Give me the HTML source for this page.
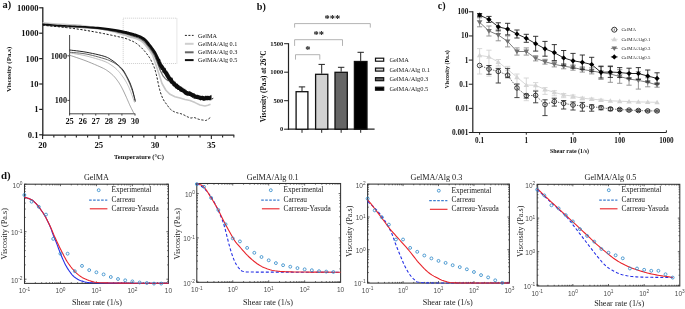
<!DOCTYPE html>
<html><head><meta charset="utf-8"><title>Rheology figure</title>
<style>
html,body{margin:0;padding:0;background:#fff;width:685px;height:309px;overflow:hidden}
svg{display:block;filter:blur(0.35px)}

</style></head>
<body>
<svg width="685" height="309" viewBox="0 0 685 309">
<rect x="0" y="0" width="685" height="309" fill="#fff"/>
<text x="2.5" y="7.9" font-family='"Liberation Serif", serif' font-size="10.4" font-weight="bold" fill="#111">a)</text>
<rect x="123.2" y="18.2" width="53.7" height="45.3" fill="none" stroke="#b8b8b8" stroke-width="0.7" stroke-dasharray="1 1"/>
<line x1="42.8" y1="7.3" x2="42.8" y2="135.8" stroke="#222" stroke-width="1.3"/>
<line x1="42.2" y1="135.2" x2="234.3" y2="135.2" stroke="#222" stroke-width="1.3"/>
<line x1="39.2" y1="7.8" x2="42.8" y2="7.8" stroke="#222" stroke-width="1.2"/>
<text x="38.5" y="10.7" font-family='"Liberation Serif", serif' font-size="8.6" font-weight="bold" text-anchor="end" fill="#111">10000</text>
<line x1="39.2" y1="33.2" x2="42.8" y2="33.2" stroke="#222" stroke-width="1.2"/>
<text x="38.5" y="36.1" font-family='"Liberation Serif", serif' font-size="8.6" font-weight="bold" text-anchor="end" fill="#111">1000</text>
<line x1="39.2" y1="58.6" x2="42.8" y2="58.6" stroke="#222" stroke-width="1.2"/>
<text x="38.5" y="61.5" font-family='"Liberation Serif", serif' font-size="8.6" font-weight="bold" text-anchor="end" fill="#111">100</text>
<line x1="39.2" y1="84" x2="42.8" y2="84" stroke="#222" stroke-width="1.2"/>
<text x="38.5" y="86.9" font-family='"Liberation Serif", serif' font-size="8.6" font-weight="bold" text-anchor="end" fill="#111">10</text>
<line x1="39.2" y1="109.4" x2="42.8" y2="109.4" stroke="#222" stroke-width="1.2"/>
<text x="38.5" y="112.3" font-family='"Liberation Serif", serif' font-size="8.6" font-weight="bold" text-anchor="end" fill="#111">1</text>
<line x1="39.2" y1="134.8" x2="42.8" y2="134.8" stroke="#222" stroke-width="1.2"/>
<text x="38.5" y="137.7" font-family='"Liberation Serif", serif' font-size="8.6" font-weight="bold" text-anchor="end" fill="#111">0.1</text>
<line x1="42.6" y1="135.2" x2="42.6" y2="138.9" stroke="#222" stroke-width="1.1"/>
<text x="42.6" y="147.8" font-family='"Liberation Serif", serif' font-size="8.7" font-weight="bold" text-anchor="middle" fill="#111">20</text>
<line x1="53.85" y1="135.2" x2="53.85" y2="137.5" stroke="#222" stroke-width="1.1"/>
<line x1="65.1" y1="135.2" x2="65.1" y2="137.5" stroke="#222" stroke-width="1.1"/>
<line x1="76.35" y1="135.2" x2="76.35" y2="137.5" stroke="#222" stroke-width="1.1"/>
<line x1="87.6" y1="135.2" x2="87.6" y2="137.5" stroke="#222" stroke-width="1.1"/>
<line x1="98.85" y1="135.2" x2="98.85" y2="138.9" stroke="#222" stroke-width="1.1"/>
<text x="98.85" y="147.8" font-family='"Liberation Serif", serif' font-size="8.7" font-weight="bold" text-anchor="middle" fill="#111">25</text>
<line x1="110.1" y1="135.2" x2="110.1" y2="137.5" stroke="#222" stroke-width="1.1"/>
<line x1="121.35" y1="135.2" x2="121.35" y2="137.5" stroke="#222" stroke-width="1.1"/>
<line x1="132.6" y1="135.2" x2="132.6" y2="137.5" stroke="#222" stroke-width="1.1"/>
<line x1="143.85" y1="135.2" x2="143.85" y2="137.5" stroke="#222" stroke-width="1.1"/>
<line x1="155.1" y1="135.2" x2="155.1" y2="138.9" stroke="#222" stroke-width="1.1"/>
<text x="155.1" y="147.8" font-family='"Liberation Serif", serif' font-size="8.7" font-weight="bold" text-anchor="middle" fill="#111">30</text>
<line x1="166.35" y1="135.2" x2="166.35" y2="137.5" stroke="#222" stroke-width="1.1"/>
<line x1="177.6" y1="135.2" x2="177.6" y2="137.5" stroke="#222" stroke-width="1.1"/>
<line x1="188.85" y1="135.2" x2="188.85" y2="137.5" stroke="#222" stroke-width="1.1"/>
<line x1="200.1" y1="135.2" x2="200.1" y2="137.5" stroke="#222" stroke-width="1.1"/>
<line x1="211.35" y1="135.2" x2="211.35" y2="138.9" stroke="#222" stroke-width="1.1"/>
<text x="211.35" y="147.8" font-family='"Liberation Serif", serif' font-size="8.7" font-weight="bold" text-anchor="middle" fill="#111">35</text>
<line x1="222.6" y1="135.2" x2="222.6" y2="137.5" stroke="#222" stroke-width="1.1"/>
<line x1="233.85" y1="135.2" x2="233.85" y2="137.5" stroke="#222" stroke-width="1.1"/>
<text x="139" y="158.6" font-family='"Liberation Serif", serif' font-size="6.6" font-weight="bold" text-anchor="middle" fill="#111">Temperature (°C)</text>
<text x="11.4" y="69.4" font-family='"Liberation Serif", serif' font-size="7" font-weight="bold" text-anchor="middle" fill="#111" transform="rotate(-90 11.4 69.4)">Viscosity (Pa.s)</text>
<polyline points="42.72,22.8 44.58,22.96 47.13,23.18 50.17,23.44 53.47,23.72 56.85,23.98 60.09,24.2 63.26,24.39 66.54,24.55 69.9,24.7 73.3,24.85 76.71,25.01 80.08,25.2 83.46,25.73 86.9,26.27 90.34,26.82 93.71,27.39 96.94,27.96 99.95,28.54 102.76,29.13 105.42,29.73 107.95,30.34 110.33,30.95 112.58,31.54 114.69,32.09 116.66,32.63 118.47,33.15 120.15,33.65 121.7,34.12 123.12,34.57 124.4,34.97 125.47,35.32 126.31,35.62 127.02,35.88 127.69,36.13 128.38,36.4 129.16,36.69 130.01,36.91 130.84,37.14 131.66,37.36 132.46,37.58 133.25,37.81 134.05,38.06 134.88,38.32 135.7,38.57 136.48,38.82 137.21,39.08 137.9,39.35 138.61,39.68 139.36,40.06 140.12,40.46 140.83,40.87 141.52,41.31 142.18,41.8 142.84,42.37 143.53,43.04 144.26,43.84 145.03,44.74 145.82,45.73 146.64,46.77 147.46,47.85 148.3,48.95 149.17,50.1 150.02,51.27 150.84,52.44 151.59,53.57 152.24,54.61 152.77,55.59 159,74 162,83.5 165.9,90.24 170,94.34 175,96.67 180,98.1 185,99.53 190,100.57 195,102.61 200,105.04 205,105.96 208,105.33 210.5,104.3" fill="none" stroke="#c8c8c8" stroke-width="1.6" stroke-linejoin="round"/>
<polyline points="42.52,25.1 44.39,25.25 46.94,25.47 49.97,25.73 53.29,26.01 56.68,26.27 59.94,26.5 63.14,26.68 66.43,26.84 69.8,26.99 73.2,27.14 76.59,27.31 79.95,27.5 83.33,27.71 86.79,27.94 90.25,28.17 93.63,28.43 96.87,28.7 99.91,28.99 102.73,29.39 105.41,29.8 107.96,30.24 110.37,30.68 112.65,31.11 114.79,31.52 116.78,31.92 118.64,32.31 120.35,32.69 121.93,33.06 123.37,33.41 124.68,33.73 125.78,34 126.66,34.24 127.41,34.46 128.1,34.67 128.8,34.89 129.59,35.12 130.42,35.36 131.25,35.6 132.07,35.84 132.88,36.09 133.69,36.34 134.5,36.61 135.33,36.89 136.15,37.16 136.94,37.44 137.71,37.73 138.46,38.05 139.22,38.42 140.01,38.82 140.79,39.24 141.56,39.68 142.31,40.16 143.05,40.71 143.79,41.33 144.54,42.06 145.32,42.91 146.11,43.85 146.92,44.86 147.74,45.92 148.57,46.99 149.42,48.11 150.29,49.27 151.16,50.46 152,51.65 152.77,52.81 153.45,53.91 154.02,54.95 154.51,55.98 154.97,57.03 155.42,58.09 155.88,59.18 156.37,60.26 160.3,70.46 163,75.9 165.5,78.87 168,80.67 170.7,81.08 175,85.76 180,90.24 185,92.83 190,94.89 195,96.61 200,97.08 205,98.81 211,98.51" fill="none" stroke="#707070" stroke-width="1.2" stroke-linejoin="round"/>
<polygon points="42.53,25 43.86,25.11 45.6,25.26 47.67,25.44 49.98,25.63 52.46,25.84 55,26.04 57.52,26.23 59.95,26.4 62.33,26.54 64.78,26.67 67.27,26.78 69.8,26.89 72.35,27.01 74.9,27.12 77.44,27.25 79.95,27.4 82.48,27.56 85.07,27.72 87.66,27.94 90.25,28.16 92.79,28.39 95.27,28.63 97.65,28.88 99.89,29.14 102.02,29.41 104.07,29.71 106.05,30.02 107.95,30.33 109.77,30.65 111.52,30.97 113.19,31.27 114.78,31.57 116.29,31.86 117.72,32.14 119.07,32.43 120.35,32.71 121.55,32.98 122.67,33.24 123.72,33.49 124.68,33.72 125.54,33.91 126.25,34.08 126.88,34.24 127.43,34.39 127.95,34.53 128.47,34.68 129.02,34.83 129.62,35 130.25,35.17 130.88,35.33 131.5,35.5 132.12,35.67 132.73,35.84 133.34,36.01 133.95,36.19 134.57,36.38 135.19,36.58 135.82,36.77 136.43,36.97 137.04,37.16 137.63,37.37 138.21,37.59 138.78,37.83 139.36,38.1 139.97,38.41 140.57,38.72 141.16,39.04 141.75,39.38 142.32,39.75 142.89,40.14 143.46,40.58 144.02,41.07 144.6,41.62 145.18,42.24 145.78,42.91 146.38,43.63 146.99,44.38 147.61,45.17 148.23,45.97 148.85,46.78 149.48,47.61 150.14,48.47 150.79,49.36 151.45,50.26 152.08,51.15 152.68,52.04 153.24,52.91 153.75,53.73 154.19,54.52 154.58,55.31 154.92,56.11 155.23,56.91 155.53,57.73 155.83,58.55 156.15,59.38 156.58,60.37 157.19,61.16 157.07,60.71 157.42,63.04 157.93,63.49 158.1,64.35 158.55,65.66 158.88,66.08 159.57,67.64 159.7,67.13 159.94,68.35 160.26,68.28 160.54,69.55 163.76,71.18 163.78,70.48 161.79,70.1 161.98,70.37 162.49,72.62 163.67,73.07 163.56,73.55 163.91,73.45 164.05,74.03 164.72,74.69 164.75,74.69 165.15,75.64 165.54,76.16 166.09,77.54 166.59,77.84 166.96,78.77 167.5,79.39 168.24,80.59 170.62,81.22 168.91,79.99 169.23,81.53 170.01,82.89 171.11,84.03 171.32,83.85 172.17,85.05 172.17,84.28 172.63,85.88 174.67,87.01 175.25,87.05 174.39,86.19 174.92,87.96 178.07,89.83 177.18,88.58 177.13,89.8 179.81,90.25 179.02,90.03 178.86,89.99 179.51,91.3 182.71,92.62 182.05,91.63 182.08,92.79 182.54,92.01 182.92,93.37 183.72,93.16 183.89,94.01 186.33,95.42 185.91,94.64 187.1,96.02 189.5,94.6 187.37,94.46 188.63,96.07 190.29,95.44 189.16,95.43 189.75,96.05 191.76,97.31 193.3,96.59 191.41,95.91 192.47,98.09 193.46,97.54 193.4,98.39 196.61,98.97 196.92,98.35 195.97,98.59 196.53,98.82 197.43,99.32 198.53,99.49 198.86,99.51 198.74,99.39 200.56,100.52 202.26,99.62 201.03,99.64 202.8,100.45 204.06,99.51 202.19,99.12 203.55,101 206.04,100.16 206.79,100.15 206.36,99.62 205.11,99.76 208.28,100.42 207.44,99.76 206.52,100.1 210.19,100.12 209.27,99.79 208.18,100.37 210.16,100.34 211.32,100.27 211.21,99.77 209.59,100 213.07,98.9 213.33,97.41 211.59,98.91 211.41,94.71 209.3,96.22 209.1,97.53 212.03,96.58 209.79,95.82 208.99,96.78 209.41,96.2 210.62,96.95 208.73,95.63 206.97,97.42 209.74,97.4 207.87,95.58 206.03,96.88 208.17,96.87 205.85,95.45 204.33,96.75 203.96,96.51 205.3,97.18 205.45,96.47 202.33,95.68 202.33,96.28 202.81,95.84 200.29,95.91 200.71,96.32 201.26,96.04 199.89,95.44 198.97,95.31 198.82,95.36 198.47,95.1 197.78,94.79 195.58,94.38 194.64,95.26 196.6,95.66 195.29,93.76 195.03,94.75 194.84,93.48 191.7,92.71 191.99,93.11 192.75,93.11 192.09,92.43 189.71,91.28 190.12,92.14 190.13,91.3 186.75,91.42 187.9,91.9 187.84,90.9 186.17,91.22 187.36,91.63 186.28,89.83 185.83,90.34 184.96,88.58 184.17,89.15 182.95,87.53 181.04,88.77 182.99,88.94 182.39,87.72 180.98,86.31 178.93,86.14 180.34,87.08 179.01,84.8 176.84,85.82 178.73,86.19 178.01,84.06 175.93,82.91 175.33,82.86 176.22,83.71 175.55,81.79 174.45,81.51 174.22,80.82 173.36,80.48 173.42,80.45 173.18,80.08 172.49,77.8 169.78,77.11 171.19,77.6 170.97,77.03 170.58,76.64 170.03,75.42 169.63,75.29 169.31,74.31 168.85,73.67 168.43,72.66 167.68,71.72 167.6,71.78 167,70.61 166.63,70.68 165.8,69.45 166.25,70.75 166.02,69.21 165.46,68.06 162.72,66.41 161.99,67.38 164.46,68.05 163.99,66.35 163.56,66.33 163.05,64.81 162.43,64.87 162.37,64.31 161.95,63.9 161.65,63.16 161.07,61.62 160.83,61.95 160.43,59.73 159.56,58.69 159.42,58.63 159.12,58.05 158.76,57.3 158.4,56.53 158.02,55.72 157.62,54.9 157.2,54.05 156.75,53.17 156.25,52.27 155.7,51.36 155.1,50.44 154.46,49.5 153.8,48.57 153.13,47.64 152.46,46.74 151.79,45.86 151.15,45.02 150.52,44.2 149.89,43.39 149.26,42.58 148.62,41.78 147.97,41.01 147.32,40.28 146.65,39.58 145.98,38.93 145.29,38.34 144.61,37.81 143.93,37.33 143.25,36.91 142.59,36.52 141.93,36.16 141.28,35.82 140.64,35.5 139.97,35.18 139.29,34.9 138.62,34.64 137.96,34.41 137.32,34.2 136.68,34 136.06,33.81 135.43,33.62 134.8,33.42 134.16,33.23 133.52,33.05 132.88,32.87 132.25,32.7 131.62,32.53 131,32.37 130.38,32.2 129.8,32.04 129.26,31.89 128.74,31.74 128.19,31.59 127.61,31.43 126.95,31.26 126.19,31.08 125.32,30.88 124.33,30.68 123.27,30.47 122.13,30.24 120.9,30.01 119.6,29.76 118.22,29.52 116.75,29.27 115.22,29.03 113.61,28.79 111.92,28.53 110.15,28.27 108.3,28.01 106.37,27.75 104.37,27.5 102.28,27.27 100.11,27.06 97.83,26.87 95.43,26.7 92.94,26.54 90.38,26.39 87.78,26.25 85.17,26.12 82.58,25.96 80.05,25.8 77.53,25.65 74.98,25.53 72.42,25.41 69.87,25.29 67.35,25.18 64.86,25.07 62.42,24.94 60.05,24.8 57.64,24.64 55.12,24.45 52.58,24.25 50.12,24.04 47.8,23.84 45.73,23.66 43.99,23.51 42.67,23.4" fill="#0d0d0d"/>
<polyline points="42.6,25.3 44.46,25.46 47.01,25.68 50.05,25.94 53.36,26.24 56.75,26.56 60,26.9 63.19,27.26 66.51,27.64 69.9,28.04 73.31,28.47 76.69,28.93 80,29.4 83.32,29.92 86.7,30.48 90.06,31.07 93.3,31.65 96.31,32.2 99,32.7 101.34,33.14 103.41,33.54 105.25,33.91 106.93,34.26 108.49,34.59 110,34.9 111.39,35.19 112.59,35.44 113.69,35.67 114.74,35.9 115.82,36.13 117,36.4 118.31,36.69 119.7,37 121.12,37.32 122.52,37.65 123.83,37.98 125,38.3 126.01,38.61 126.89,38.92 127.69,39.23 128.44,39.54 129.2,39.86 130,40.2 130.83,40.54 131.67,40.88 132.5,41.23 133.33,41.6 134.17,42.02 135,42.5 135.83,43.04 136.67,43.63 137.5,44.27 138.33,44.94 139.17,45.66 140,46.4 140.83,47.17 141.67,47.98 142.5,48.82 143.33,49.7 144.17,50.63 145,51.6 145.86,52.65 146.74,53.77 147.62,54.94 148.48,56.12 149.28,57.28 150,58.4 150.63,59.49 151.19,60.58 151.7,61.65 152.16,62.69 152.59,63.68 153,64.6 153.36,65.39 153.67,66.05 153.95,66.66 154.21,67.3 154.49,68.05 154.8,69 155.15,70.17 155.51,71.49 155.89,72.93 156.27,74.44 156.64,75.98 157,77.5 157.34,79.05 157.68,80.69 158.01,82.34 158.34,83.98 158.67,85.55 159,87 159.33,88.32 159.64,89.56 159.96,90.72 160.29,91.83 160.63,92.92 161,94 161.39,95.07 161.79,96.12 162.21,97.14 162.65,98.13 163.11,99.08 163.6,100 164.12,100.87 164.67,101.7 165.25,102.5 165.84,103.27 166.42,104.04 167,104.8 167.57,105.58 168.14,106.38 168.72,107.16 169.29,107.91 169.85,108.6 170.4,109.2 170.93,109.7 171.43,110.13 171.93,110.49 172.43,110.81 172.95,111.11 173.5,111.4 174.09,111.69 174.7,111.95 175.34,112.19 175.97,112.41 176.6,112.61 177.2,112.8 177.77,112.96 178.32,113.09 178.86,113.2 179.4,113.31 179.94,113.44 180.5,113.6 181.07,113.79 181.65,114.01 182.24,114.24 182.83,114.48 183.41,114.74 184,115 184.59,115.28 185.17,115.59 185.76,115.91 186.35,116.23 186.93,116.53 187.5,116.8 188.06,117.05 188.62,117.31 189.17,117.54 189.71,117.75 190.26,117.91 190.8,118 191.33,117.99 191.86,117.89 192.38,117.74 192.91,117.59 193.44,117.49 194,117.5 194.58,117.63 195.2,117.85 195.82,118.12 196.44,118.41 197.04,118.68 197.6,118.9 198.13,119.07 198.63,119.23 199.11,119.36 199.57,119.49 200.04,119.6 200.5,119.7 200.97,119.79 201.43,119.86 201.89,119.93 202.34,119.98 202.78,120.04 203.2,120.1 203.61,120.18 204,120.29 204.38,120.39 204.76,120.47 205.13,120.51 205.5,120.5 205.86,120.43 206.21,120.31 206.56,120.16 206.91,119.97 207.29,119.75 207.7,119.5 208.19,119.18 208.75,118.77 209.34,118.34 209.89,117.91 210.36,117.55 210.7,117.3" fill="none" stroke="#111" stroke-width="1" stroke-linejoin="round" stroke-dasharray="2.2 1.6"/>
<line x1="184.9" y1="35.4" x2="193.6" y2="35.4" stroke="#222" stroke-width="1" stroke-dasharray="2 1.5"/>
<text x="198.1" y="37.5" font-family='"Liberation Serif", serif' font-size="6.2" fill="#111">GelMA</text>
<line x1="184.9" y1="43.8" x2="193.6" y2="43.8" stroke="#cfcfcf" stroke-width="2"/>
<text x="198.1" y="45.9" font-family='"Liberation Serif", serif' font-size="6.2" fill="#111">GelMA/Alg 0.1</text>
<line x1="184.9" y1="52.3" x2="193.6" y2="52.3" stroke="#666" stroke-width="2"/>
<text x="198.1" y="54.4" font-family='"Liberation Serif", serif' font-size="6.2" fill="#111">GelMA/Alg 0.3</text>
<line x1="184.9" y1="60.1" x2="193.6" y2="60.1" stroke="#111" stroke-width="2"/>
<text x="198.1" y="62.2" font-family='"Liberation Serif", serif' font-size="6.2" fill="#111">GelMA/Alg 0.5</text>
<line x1="69.6" y1="35" x2="69.6" y2="114.2" stroke="#333" stroke-width="0.9"/>
<line x1="69.2" y1="113.8" x2="135.2" y2="113.8" stroke="#333" stroke-width="0.9"/>
<line x1="67.4" y1="55.8" x2="69.6" y2="55.8" stroke="#333" stroke-width="0.9"/>
<text x="67" y="58.65" font-family='"Liberation Serif", serif' font-size="8.2" font-weight="bold" text-anchor="end" fill="#111">1000</text>
<line x1="67.4" y1="100.4" x2="69.6" y2="100.4" stroke="#333" stroke-width="0.9"/>
<text x="67" y="103.25" font-family='"Liberation Serif", serif' font-size="8.2" font-weight="bold" text-anchor="end" fill="#111">100</text>
<line x1="69.6" y1="113.8" x2="69.6" y2="115.6" stroke="#333" stroke-width="0.9"/>
<text x="69.6" y="123.7" font-family='"Liberation Serif", serif' font-size="8.4" font-weight="bold" text-anchor="middle" fill="#111">25</text>
<line x1="82.68" y1="113.8" x2="82.68" y2="115.6" stroke="#333" stroke-width="0.9"/>
<text x="82.68" y="123.7" font-family='"Liberation Serif", serif' font-size="8.4" font-weight="bold" text-anchor="middle" fill="#111">26</text>
<line x1="95.76" y1="113.8" x2="95.76" y2="115.6" stroke="#333" stroke-width="0.9"/>
<text x="95.76" y="123.7" font-family='"Liberation Serif", serif' font-size="8.4" font-weight="bold" text-anchor="middle" fill="#111">27</text>
<line x1="108.84" y1="113.8" x2="108.84" y2="115.6" stroke="#333" stroke-width="0.9"/>
<text x="108.84" y="123.7" font-family='"Liberation Serif", serif' font-size="8.4" font-weight="bold" text-anchor="middle" fill="#111">28</text>
<line x1="121.92" y1="113.8" x2="121.92" y2="115.6" stroke="#333" stroke-width="0.9"/>
<text x="121.92" y="123.7" font-family='"Liberation Serif", serif' font-size="8.4" font-weight="bold" text-anchor="middle" fill="#111">29</text>
<line x1="135" y1="113.8" x2="135" y2="115.6" stroke="#333" stroke-width="0.9"/>
<text x="135" y="123.7" font-family='"Liberation Serif", serif' font-size="8.4" font-weight="bold" text-anchor="middle" fill="#111">30</text>
<polyline points="69.6,55.2 71.39,55.81 73.87,56.64 76.8,57.62 79.96,58.71 83.1,59.82 86,60.9 88.81,62.01 91.73,63.21 94.65,64.44 97.42,65.64 99.92,66.74 102,67.7 103.59,68.46 104.77,69.08 105.67,69.6 106.42,70.09 107.16,70.6 108,71.2 108.94,71.88 109.88,72.6 110.79,73.34 111.68,74.1 112.52,74.86 113.3,75.6 114.02,76.33 114.67,77.06 115.29,77.79 115.87,78.52 116.44,79.26 117,80 117.55,80.75 118.09,81.49 118.6,82.24 119.1,83 119.6,83.78 120.1,84.6 120.6,85.45 121.09,86.32 121.57,87.21 122.05,88.13 122.52,89.06 123,90 123.48,90.98 123.96,91.99 124.44,93.03 124.91,94.05 125.37,95.05 125.8,96 126.2,96.89 126.57,97.73 126.93,98.55 127.28,99.36 127.63,100.17 128,101 128.36,101.84 128.72,102.66 129.08,103.49 129.45,104.34 129.85,105.24 130.3,106.2 130.84,107.32 131.48,108.6 132.14,109.93 132.78,111.18 133.32,112.24 133.7,113" fill="none" stroke="#8a8a8a" stroke-width="0.8" stroke-linejoin="round"/>
<polyline points="69.6,52.9 71.37,53.2 73.79,53.59 76.67,54.07 79.81,54.62 82.98,55.23 86,55.9 89.02,56.66 92.25,57.53 95.53,58.46 98.68,59.41 101.56,60.34 104,61.2 105.94,61.98 107.49,62.71 108.76,63.42 109.87,64.13 110.91,64.85 112,65.6 113.1,66.37 114.12,67.14 115.07,67.92 115.99,68.73 116.89,69.58 117.8,70.5 118.72,71.49 119.62,72.55 120.51,73.65 121.38,74.77 122.21,75.9 123,77 123.75,78.08 124.46,79.17 125.14,80.25 125.79,81.33 126.41,82.42 127,83.5 127.56,84.57 128.07,85.61 128.56,86.66 129.04,87.72 129.51,88.83 130,90 130.52,91.29 131.06,92.69 131.59,94.12 132.11,95.54 132.59,96.85 133,98 133.35,99 133.67,99.93 133.94,100.75 134.17,101.46 134.35,102.05 134.5,102.5" fill="none" stroke="#b5b5b5" stroke-width="0.9" stroke-linejoin="round"/>
<polyline points="69.6,52.2 71.37,52.36 73.79,52.56 76.67,52.81 79.81,53.13 82.98,53.52 86,54 89.02,54.62 92.25,55.38 95.53,56.21 98.68,57.07 101.56,57.88 104,58.6 105.94,59.21 107.49,59.76 108.76,60.26 109.87,60.76 110.91,61.26 112,61.8 113.1,62.35 114.12,62.9 115.07,63.45 115.99,64.04 116.89,64.68 117.8,65.4 118.72,66.2 119.62,67.07 120.51,68 121.38,68.97 122.21,69.97 123,71 123.75,72.07 124.46,73.18 125.14,74.33 125.79,75.5 126.41,76.66 127,77.8 127.56,78.91 128.07,79.99 128.56,81.07 129.04,82.17 129.51,83.3 130,84.5 130.51,85.77 131.03,87.1 131.54,88.48 132.05,89.86 132.54,91.25 133,92.6 133.45,94.02 133.9,95.54 134.34,97.06 134.73,98.46 135.06,99.64 135.3,100.5" fill="none" stroke="#555" stroke-width="0.9" stroke-linejoin="round"/>
<polyline points="69.6,50 71.38,50.22 73.82,50.5 76.72,50.84 79.87,51.24 83.07,51.7 86.1,52.2 89.14,52.77 92.4,53.43 95.69,54.14 98.87,54.87 101.76,55.6 104.2,56.3 106.12,56.97 107.64,57.62 108.87,58.27 109.93,58.93 110.93,59.61 112,60.3 113.09,61.01 114.1,61.74 115.06,62.47 115.99,63.23 116.89,64 117.8,64.8 118.72,65.61 119.63,66.43 120.52,67.26 121.39,68.13 122.22,69.04 123,70 123.73,71.03 124.43,72.14 125.08,73.28 125.71,74.44 126.31,75.59 126.9,76.7 127.47,77.76 128.01,78.79 128.53,79.81 129.03,80.84 129.52,81.9 130,83 130.46,84.11 130.9,85.21 131.33,86.34 131.74,87.53 132.17,88.84 132.6,90.3 133.08,92.08 133.59,94.19 134.11,96.41 134.6,98.52 135.01,100.32 135.3,101.6" fill="none" stroke="#222" stroke-width="1" stroke-linejoin="round"/>
<text x="256.8" y="10.2" font-family='"Liberation Serif", serif' font-size="10.2" font-weight="bold" fill="#111">b)</text>
<line x1="288.5" y1="43.2" x2="288.5" y2="129.8" stroke="#222" stroke-width="1.2"/>
<line x1="287.9" y1="129.2" x2="374.6" y2="129.2" stroke="#222" stroke-width="1.2"/>
<line x1="284.1" y1="43.7" x2="288.5" y2="43.7" stroke="#222" stroke-width="1"/>
<text x="283.2" y="45.9" font-family='"Liberation Serif", serif' font-size="6.5" font-weight="bold" text-anchor="end" fill="#111">1500</text>
<line x1="284.1" y1="72.2" x2="288.5" y2="72.2" stroke="#222" stroke-width="1"/>
<text x="283.2" y="74.4" font-family='"Liberation Serif", serif' font-size="6.5" font-weight="bold" text-anchor="end" fill="#111">1000</text>
<line x1="284.1" y1="100.7" x2="288.5" y2="100.7" stroke="#222" stroke-width="1"/>
<text x="283.2" y="102.9" font-family='"Liberation Serif", serif' font-size="6.5" font-weight="bold" text-anchor="end" fill="#111">500</text>
<line x1="284.1" y1="129.2" x2="288.5" y2="129.2" stroke="#222" stroke-width="1"/>
<text x="283.2" y="131.4" font-family='"Liberation Serif", serif' font-size="6.5" font-weight="bold" text-anchor="end" fill="#111">0</text>
<text x="266.2" y="86.4" font-family='"Liberation Serif", serif' font-size="7.25" font-weight="bold" text-anchor="middle" fill="#111" transform="rotate(-90 266.2 86.4)">Viscosity (Pa.s) at 26°C</text>
<line x1="302" y1="91.1" x2="302" y2="86.9" stroke="#222" stroke-width="1"/>
<line x1="298.8" y1="86.9" x2="305.2" y2="86.9" stroke="#222" stroke-width="1"/>
<rect x="296.1" y="91.7" width="11.8" height="37.5" fill="#fff" stroke="#111" stroke-width="1.3"/>
<line x1="302" y1="129.2" x2="302" y2="132.8" stroke="#222" stroke-width="1"/>
<line x1="321.7" y1="73.7" x2="321.7" y2="64.4" stroke="#222" stroke-width="1"/>
<line x1="318.5" y1="64.4" x2="324.9" y2="64.4" stroke="#222" stroke-width="1"/>
<rect x="315.6" y="74.3" width="12.2" height="54.9" fill="#d2d2d2" stroke="#111" stroke-width="1.3"/>
<line x1="321.7" y1="129.2" x2="321.7" y2="132.8" stroke="#222" stroke-width="1"/>
<line x1="341.15" y1="71.7" x2="341.15" y2="67.3" stroke="#222" stroke-width="1"/>
<line x1="337.95" y1="67.3" x2="344.35" y2="67.3" stroke="#222" stroke-width="1"/>
<rect x="335" y="72.3" width="12.3" height="56.9" fill="#666" stroke="#111" stroke-width="1.3"/>
<line x1="341.15" y1="129.2" x2="341.15" y2="132.8" stroke="#222" stroke-width="1"/>
<line x1="360.7" y1="60.9" x2="360.7" y2="52.3" stroke="#222" stroke-width="1"/>
<line x1="357.5" y1="52.3" x2="363.9" y2="52.3" stroke="#222" stroke-width="1"/>
<rect x="354.4" y="61.5" width="12.6" height="67.7" fill="#000" stroke="#111" stroke-width="1.3"/>
<line x1="360.7" y1="129.2" x2="360.7" y2="132.8" stroke="#222" stroke-width="1"/>
<polyline points="294.6,27.6 294.6,23.6 370.3,23.6 370.3,27.6" fill="none" stroke="#a0a0a0" stroke-width="0.8" stroke-linejoin="miter"/>
<polyline points="294.6,45.9 294.6,39.7 342.5,39.7 342.5,45.9" fill="none" stroke="#a0a0a0" stroke-width="0.8" stroke-linejoin="miter"/>
<polyline points="295.5,59.6 295.5,54.7 319.8,54.7 319.8,59.6" fill="none" stroke="#a0a0a0" stroke-width="0.8" stroke-linejoin="miter"/>
<text x="332.4" y="22.2" font-family='"Liberation Serif", serif' font-size="10.5" font-weight="bold" text-anchor="middle" fill="#111">***</text>
<text x="318.8" y="38.3" font-family='"Liberation Serif", serif' font-size="10.5" font-weight="bold" text-anchor="middle" fill="#111">**</text>
<text x="307.8" y="52.5" font-family='"Liberation Serif", serif' font-size="10.5" font-weight="bold" text-anchor="middle" fill="#111">*</text>
<rect x="375.5" y="58.2" width="8.2" height="3" fill="#fff" stroke="#111" stroke-width="1.2"/>
<text x="389.4" y="61.9" font-family='"Liberation Serif", serif' font-size="6.4" fill="#1a1a1a">GelMA</text>
<rect x="375.5" y="68.1" width="8.2" height="3" fill="#d2d2d2" stroke="#111" stroke-width="1.2"/>
<text x="389.4" y="71.8" font-family='"Liberation Serif", serif' font-size="6.4" fill="#1a1a1a">GelMA/Alg 0.1</text>
<rect x="375.5" y="77.7" width="8.2" height="3" fill="#666" stroke="#111" stroke-width="1.2"/>
<text x="389.4" y="81.4" font-family='"Liberation Serif", serif' font-size="6.4" fill="#1a1a1a">GelMA/Alg0.3</text>
<rect x="375.5" y="87.2" width="8.2" height="3" fill="#000" stroke="#111" stroke-width="1.2"/>
<text x="389.4" y="90.9" font-family='"Liberation Serif", serif' font-size="6.4" fill="#1a1a1a">GelMA/Alg0.5</text>
<text x="437.8" y="9.3" font-family='"Liberation Serif", serif' font-size="10.2" font-weight="bold" fill="#111">c)</text>
<line x1="472.8" y1="11.3" x2="472.8" y2="133.1" stroke="#222" stroke-width="1.2"/>
<line x1="472.2" y1="132.5" x2="666.3" y2="132.5" stroke="#222" stroke-width="1.2"/>
<line x1="468.8" y1="11.8" x2="472.8" y2="11.8" stroke="#222" stroke-width="1"/>
<text x="468.4" y="14.3" font-family='"Liberation Serif", serif' font-size="7.3" font-weight="bold" text-anchor="end" fill="#111">100</text>
<line x1="468.8" y1="35.94" x2="472.8" y2="35.94" stroke="#222" stroke-width="1"/>
<text x="468.4" y="38.44" font-family='"Liberation Serif", serif' font-size="7.3" font-weight="bold" text-anchor="end" fill="#111">10</text>
<line x1="468.8" y1="60.08" x2="472.8" y2="60.08" stroke="#222" stroke-width="1"/>
<text x="468.4" y="62.58" font-family='"Liberation Serif", serif' font-size="7.3" font-weight="bold" text-anchor="end" fill="#111">1</text>
<line x1="468.8" y1="84.22" x2="472.8" y2="84.22" stroke="#222" stroke-width="1"/>
<text x="468.4" y="86.72" font-family='"Liberation Serif", serif' font-size="7.3" font-weight="bold" text-anchor="end" fill="#111">0.1</text>
<line x1="468.8" y1="108.36" x2="472.8" y2="108.36" stroke="#222" stroke-width="1"/>
<text x="468.4" y="110.86" font-family='"Liberation Serif", serif' font-size="7.3" font-weight="bold" text-anchor="end" fill="#111">0.01</text>
<line x1="468.8" y1="132.5" x2="472.8" y2="132.5" stroke="#222" stroke-width="1"/>
<text x="468.4" y="135" font-family='"Liberation Serif", serif' font-size="7.3" font-weight="bold" text-anchor="end" fill="#111">0.001</text>
<line x1="479.6" y1="132.5" x2="479.6" y2="134.7" stroke="#222" stroke-width="1"/>
<text x="479.6" y="143.2" font-family='"Liberation Serif", serif' font-size="7.2" font-weight="bold" text-anchor="middle" fill="#111">0.1</text>
<line x1="526.3" y1="132.5" x2="526.3" y2="134.7" stroke="#222" stroke-width="1"/>
<text x="526.3" y="143.2" font-family='"Liberation Serif", serif' font-size="7.2" font-weight="bold" text-anchor="middle" fill="#111">1</text>
<line x1="573" y1="132.5" x2="573" y2="134.7" stroke="#222" stroke-width="1"/>
<text x="573" y="143.2" font-family='"Liberation Serif", serif' font-size="7.2" font-weight="bold" text-anchor="middle" fill="#111">10</text>
<line x1="619.7" y1="132.5" x2="619.7" y2="134.7" stroke="#222" stroke-width="1"/>
<text x="619.7" y="143.2" font-family='"Liberation Serif", serif' font-size="7.2" font-weight="bold" text-anchor="middle" fill="#111">100</text>
<line x1="666.4" y1="130.3" x2="666.4" y2="132.5" stroke="#222" stroke-width="1"/>
<text x="666.4" y="143.2" font-family='"Liberation Serif", serif' font-size="7.2" font-weight="bold" text-anchor="middle" fill="#111">1000</text>
<text x="569.5" y="153.3" font-family='"Liberation Serif", serif' font-size="6" font-weight="bold" text-anchor="middle" fill="#111">Shear rate (1/s)</text>
<text x="449.2" y="69.4" font-family='"Liberation Serif", serif' font-size="5.95" font-weight="bold" text-anchor="middle" fill="#111" transform="rotate(-90 449.2 69.4)">Viscosity (Pa.s)</text>
<polyline points="479.6,55.4 488.94,56.8 498.28,62 507.62,69.4 516.96,77.2 526.3,85 535.64,85.3 544.98,89.5 554.32,92.3 563.66,94.9 573,96.2 582.34,98.2 591.68,99.1 601.02,100 610.36,100.8 619.7,101.2 629.04,101.6 638.38,101.9 647.72,102.1 657.06,102.3" fill="none" stroke="#d4d4d4" stroke-width="0.9" stroke-linejoin="round"/>
<line x1="479.6" y1="48.6" x2="479.6" y2="74" stroke="#d4d4d4" stroke-width="0.9"/>
<line x1="477" y1="48.6" x2="482.2" y2="48.6" stroke="#d4d4d4" stroke-width="0.9"/>
<line x1="477" y1="74" x2="482.2" y2="74" stroke="#d4d4d4" stroke-width="0.9"/>
<line x1="488.94" y1="50.2" x2="488.94" y2="76.2" stroke="#d4d4d4" stroke-width="0.9"/>
<line x1="486.34" y1="50.2" x2="491.54" y2="50.2" stroke="#d4d4d4" stroke-width="0.9"/>
<line x1="486.34" y1="76.2" x2="491.54" y2="76.2" stroke="#d4d4d4" stroke-width="0.9"/>
<line x1="498.28" y1="59.5" x2="498.28" y2="66" stroke="#d4d4d4" stroke-width="0.9"/>
<line x1="495.68" y1="59.5" x2="500.88" y2="59.5" stroke="#d4d4d4" stroke-width="0.9"/>
<line x1="495.68" y1="66" x2="500.88" y2="66" stroke="#d4d4d4" stroke-width="0.9"/>
<line x1="507.62" y1="66.4" x2="507.62" y2="74.4" stroke="#d4d4d4" stroke-width="0.9"/>
<line x1="505.02" y1="66.4" x2="510.22" y2="66.4" stroke="#d4d4d4" stroke-width="0.9"/>
<line x1="505.02" y1="74.4" x2="510.22" y2="74.4" stroke="#d4d4d4" stroke-width="0.9"/>
<line x1="516.96" y1="74" x2="516.96" y2="84.2" stroke="#d4d4d4" stroke-width="0.9"/>
<line x1="514.36" y1="74" x2="519.56" y2="74" stroke="#d4d4d4" stroke-width="0.9"/>
<line x1="514.36" y1="84.2" x2="519.56" y2="84.2" stroke="#d4d4d4" stroke-width="0.9"/>
<line x1="526.3" y1="78" x2="526.3" y2="100.7" stroke="#d4d4d4" stroke-width="0.9"/>
<line x1="523.7" y1="78" x2="528.9" y2="78" stroke="#d4d4d4" stroke-width="0.9"/>
<line x1="523.7" y1="100.7" x2="528.9" y2="100.7" stroke="#d4d4d4" stroke-width="0.9"/>
<line x1="535.64" y1="82.6" x2="535.64" y2="90.3" stroke="#d4d4d4" stroke-width="0.9"/>
<line x1="533.04" y1="82.6" x2="538.24" y2="82.6" stroke="#d4d4d4" stroke-width="0.9"/>
<line x1="533.04" y1="90.3" x2="538.24" y2="90.3" stroke="#d4d4d4" stroke-width="0.9"/>
<line x1="544.98" y1="87.6" x2="544.98" y2="94.4" stroke="#d4d4d4" stroke-width="0.9"/>
<line x1="542.38" y1="87.6" x2="547.58" y2="87.6" stroke="#d4d4d4" stroke-width="0.9"/>
<line x1="542.38" y1="94.4" x2="547.58" y2="94.4" stroke="#d4d4d4" stroke-width="0.9"/>
<line x1="554.32" y1="90.7" x2="554.32" y2="95.8" stroke="#d4d4d4" stroke-width="0.9"/>
<line x1="551.72" y1="90.7" x2="556.92" y2="90.7" stroke="#d4d4d4" stroke-width="0.9"/>
<line x1="551.72" y1="95.8" x2="556.92" y2="95.8" stroke="#d4d4d4" stroke-width="0.9"/>
<line x1="563.66" y1="93.5" x2="563.66" y2="97.7" stroke="#d4d4d4" stroke-width="0.9"/>
<line x1="561.06" y1="93.5" x2="566.26" y2="93.5" stroke="#d4d4d4" stroke-width="0.9"/>
<line x1="561.06" y1="97.7" x2="566.26" y2="97.7" stroke="#d4d4d4" stroke-width="0.9"/>
<line x1="573" y1="95" x2="573" y2="98.2" stroke="#d4d4d4" stroke-width="0.9"/>
<line x1="570.4" y1="95" x2="575.6" y2="95" stroke="#d4d4d4" stroke-width="0.9"/>
<line x1="570.4" y1="98.2" x2="575.6" y2="98.2" stroke="#d4d4d4" stroke-width="0.9"/>
<line x1="582.34" y1="97.2" x2="582.34" y2="99.7" stroke="#d4d4d4" stroke-width="0.9"/>
<line x1="579.74" y1="97.2" x2="584.94" y2="97.2" stroke="#d4d4d4" stroke-width="0.9"/>
<line x1="579.74" y1="99.7" x2="584.94" y2="99.7" stroke="#d4d4d4" stroke-width="0.9"/>
<line x1="591.68" y1="98.1" x2="591.68" y2="100.3" stroke="#d4d4d4" stroke-width="0.9"/>
<line x1="589.08" y1="98.1" x2="594.28" y2="98.1" stroke="#d4d4d4" stroke-width="0.9"/>
<line x1="589.08" y1="100.3" x2="594.28" y2="100.3" stroke="#d4d4d4" stroke-width="0.9"/>
<line x1="601.02" y1="99.2" x2="601.02" y2="101" stroke="#d4d4d4" stroke-width="0.9"/>
<line x1="598.42" y1="99.2" x2="603.62" y2="99.2" stroke="#d4d4d4" stroke-width="0.9"/>
<line x1="598.42" y1="101" x2="603.62" y2="101" stroke="#d4d4d4" stroke-width="0.9"/>
<polygon points="479.6,52.8 476.87,57.35 482.33,57.35" fill="#d4d4d4"/>
<polygon points="488.94,54.2 486.21,58.75 491.67,58.75" fill="#d4d4d4"/>
<polygon points="498.28,59.4 495.55,63.95 501.01,63.95" fill="#d4d4d4"/>
<polygon points="507.62,66.8 504.89,71.35 510.35,71.35" fill="#d4d4d4"/>
<polygon points="516.96,74.6 514.23,79.15 519.69,79.15" fill="#d4d4d4"/>
<polygon points="526.3,82.4 523.57,86.95 529.03,86.95" fill="#d4d4d4"/>
<polygon points="535.64,82.7 532.91,87.25 538.37,87.25" fill="#d4d4d4"/>
<polygon points="544.98,86.9 542.25,91.45 547.71,91.45" fill="#d4d4d4"/>
<polygon points="554.32,89.7 551.59,94.25 557.05,94.25" fill="#d4d4d4"/>
<polygon points="563.66,92.3 560.93,96.85 566.39,96.85" fill="#d4d4d4"/>
<polygon points="573,93.6 570.27,98.15 575.73,98.15" fill="#d4d4d4"/>
<polygon points="582.34,95.6 579.61,100.15 585.07,100.15" fill="#d4d4d4"/>
<polygon points="591.68,96.5 588.95,101.05 594.41,101.05" fill="#d4d4d4"/>
<polygon points="601.02,97.4 598.29,101.95 603.75,101.95" fill="#d4d4d4"/>
<polygon points="610.36,98.2 607.63,102.75 613.09,102.75" fill="#d4d4d4"/>
<polygon points="619.7,98.6 616.97,103.15 622.43,103.15" fill="#d4d4d4"/>
<polygon points="629.04,99 626.31,103.55 631.77,103.55" fill="#d4d4d4"/>
<polygon points="638.38,99.3 635.65,103.85 641.11,103.85" fill="#d4d4d4"/>
<polygon points="647.72,99.5 644.99,104.05 650.45,104.05" fill="#d4d4d4"/>
<polygon points="657.06,99.7 654.33,104.25 659.79,104.25" fill="#d4d4d4"/>
<polyline points="479.6,65.5 488.94,69 498.28,71.4 507.62,75.2 516.96,87.9 526.3,95.6 535.64,95.4 544.98,104.5 554.32,101.5 563.66,103.4 573,105 582.34,105.9 591.68,106.9 601.02,107.6 610.36,108.9 619.7,109.5 629.04,110.1 638.38,110.5 647.72,110.9 657.06,110.9" fill="none" stroke="#333" stroke-width="0.8" stroke-linejoin="round" stroke-dasharray="1.2 1.2"/>
<line x1="488.94" y1="65.5" x2="488.94" y2="74.3" stroke="#333" stroke-width="0.9"/>
<line x1="486.34" y1="65.5" x2="491.54" y2="65.5" stroke="#333" stroke-width="0.9"/>
<line x1="486.34" y1="74.3" x2="491.54" y2="74.3" stroke="#333" stroke-width="0.9"/>
<line x1="498.28" y1="68.4" x2="498.28" y2="83" stroke="#333" stroke-width="0.9"/>
<line x1="495.68" y1="68.4" x2="500.88" y2="68.4" stroke="#333" stroke-width="0.9"/>
<line x1="495.68" y1="83" x2="500.88" y2="83" stroke="#333" stroke-width="0.9"/>
<line x1="507.62" y1="68.4" x2="507.62" y2="77.7" stroke="#333" stroke-width="0.9"/>
<line x1="505.02" y1="68.4" x2="510.22" y2="68.4" stroke="#333" stroke-width="0.9"/>
<line x1="505.02" y1="77.7" x2="510.22" y2="77.7" stroke="#333" stroke-width="0.9"/>
<line x1="516.96" y1="84" x2="516.96" y2="97.6" stroke="#333" stroke-width="0.9"/>
<line x1="514.36" y1="84" x2="519.56" y2="84" stroke="#333" stroke-width="0.9"/>
<line x1="514.36" y1="97.6" x2="519.56" y2="97.6" stroke="#333" stroke-width="0.9"/>
<line x1="526.3" y1="94.1" x2="526.3" y2="98.1" stroke="#333" stroke-width="0.9"/>
<line x1="523.7" y1="94.1" x2="528.9" y2="94.1" stroke="#333" stroke-width="0.9"/>
<line x1="523.7" y1="98.1" x2="528.9" y2="98.1" stroke="#333" stroke-width="0.9"/>
<line x1="535.64" y1="91.1" x2="535.64" y2="102.8" stroke="#333" stroke-width="0.9"/>
<line x1="533.04" y1="91.1" x2="538.24" y2="91.1" stroke="#333" stroke-width="0.9"/>
<line x1="533.04" y1="102.8" x2="538.24" y2="102.8" stroke="#333" stroke-width="0.9"/>
<line x1="544.98" y1="99.8" x2="544.98" y2="115.6" stroke="#333" stroke-width="0.9"/>
<line x1="542.38" y1="99.8" x2="547.58" y2="99.8" stroke="#333" stroke-width="0.9"/>
<line x1="542.38" y1="115.6" x2="547.58" y2="115.6" stroke="#333" stroke-width="0.9"/>
<line x1="554.32" y1="98.2" x2="554.32" y2="106.1" stroke="#333" stroke-width="0.9"/>
<line x1="551.72" y1="98.2" x2="556.92" y2="98.2" stroke="#333" stroke-width="0.9"/>
<line x1="551.72" y1="106.1" x2="556.92" y2="106.1" stroke="#333" stroke-width="0.9"/>
<line x1="563.66" y1="100.5" x2="563.66" y2="109" stroke="#333" stroke-width="0.9"/>
<line x1="561.06" y1="100.5" x2="566.26" y2="100.5" stroke="#333" stroke-width="0.9"/>
<line x1="561.06" y1="109" x2="566.26" y2="109" stroke="#333" stroke-width="0.9"/>
<line x1="573" y1="101.9" x2="573" y2="110" stroke="#333" stroke-width="0.9"/>
<line x1="570.4" y1="101.9" x2="575.6" y2="101.9" stroke="#333" stroke-width="0.9"/>
<line x1="570.4" y1="110" x2="575.6" y2="110" stroke="#333" stroke-width="0.9"/>
<line x1="582.34" y1="102.4" x2="582.34" y2="111.2" stroke="#333" stroke-width="0.9"/>
<line x1="579.74" y1="102.4" x2="584.94" y2="102.4" stroke="#333" stroke-width="0.9"/>
<line x1="579.74" y1="111.2" x2="584.94" y2="111.2" stroke="#333" stroke-width="0.9"/>
<line x1="591.68" y1="104.8" x2="591.68" y2="111.2" stroke="#333" stroke-width="0.9"/>
<line x1="589.08" y1="104.8" x2="594.28" y2="104.8" stroke="#333" stroke-width="0.9"/>
<line x1="589.08" y1="111.2" x2="594.28" y2="111.2" stroke="#333" stroke-width="0.9"/>
<line x1="601.02" y1="106.1" x2="601.02" y2="109.8" stroke="#333" stroke-width="0.9"/>
<line x1="598.42" y1="106.1" x2="603.62" y2="106.1" stroke="#333" stroke-width="0.9"/>
<line x1="598.42" y1="109.8" x2="603.62" y2="109.8" stroke="#333" stroke-width="0.9"/>
<line x1="610.36" y1="107.6" x2="610.36" y2="110.7" stroke="#333" stroke-width="0.9"/>
<line x1="607.76" y1="107.6" x2="612.96" y2="107.6" stroke="#333" stroke-width="0.9"/>
<line x1="607.76" y1="110.7" x2="612.96" y2="110.7" stroke="#333" stroke-width="0.9"/>
<line x1="619.7" y1="108.5" x2="619.7" y2="110.7" stroke="#333" stroke-width="0.9"/>
<line x1="617.1" y1="108.5" x2="622.3" y2="108.5" stroke="#333" stroke-width="0.9"/>
<line x1="617.1" y1="110.7" x2="622.3" y2="110.7" stroke="#333" stroke-width="0.9"/>
<line x1="629.04" y1="109.3" x2="629.04" y2="111.1" stroke="#333" stroke-width="0.9"/>
<line x1="626.44" y1="109.3" x2="631.64" y2="109.3" stroke="#333" stroke-width="0.9"/>
<line x1="626.44" y1="111.1" x2="631.64" y2="111.1" stroke="#333" stroke-width="0.9"/>
<line x1="638.38" y1="109.7" x2="638.38" y2="111.5" stroke="#333" stroke-width="0.9"/>
<line x1="635.78" y1="109.7" x2="640.98" y2="109.7" stroke="#333" stroke-width="0.9"/>
<line x1="635.78" y1="111.5" x2="640.98" y2="111.5" stroke="#333" stroke-width="0.9"/>
<line x1="647.72" y1="110.1" x2="647.72" y2="111.9" stroke="#333" stroke-width="0.9"/>
<line x1="645.12" y1="110.1" x2="650.32" y2="110.1" stroke="#333" stroke-width="0.9"/>
<line x1="645.12" y1="111.9" x2="650.32" y2="111.9" stroke="#333" stroke-width="0.9"/>
<line x1="657.06" y1="110.1" x2="657.06" y2="111.9" stroke="#333" stroke-width="0.9"/>
<line x1="654.46" y1="110.1" x2="659.66" y2="110.1" stroke="#333" stroke-width="0.9"/>
<line x1="654.46" y1="111.9" x2="659.66" y2="111.9" stroke="#333" stroke-width="0.9"/>
<circle cx="479.6" cy="65.5" r="2.3" fill="none" stroke="#222" stroke-width="0.85"/>
<circle cx="488.94" cy="69" r="2.3" fill="none" stroke="#222" stroke-width="0.85"/>
<circle cx="498.28" cy="71.4" r="2.3" fill="none" stroke="#222" stroke-width="0.85"/>
<circle cx="507.62" cy="75.2" r="2.3" fill="none" stroke="#222" stroke-width="0.85"/>
<circle cx="516.96" cy="87.9" r="2.3" fill="none" stroke="#222" stroke-width="0.85"/>
<circle cx="526.3" cy="95.6" r="2.3" fill="none" stroke="#222" stroke-width="0.85"/>
<circle cx="535.64" cy="95.4" r="2.3" fill="none" stroke="#222" stroke-width="0.85"/>
<circle cx="544.98" cy="104.5" r="2.3" fill="none" stroke="#222" stroke-width="0.85"/>
<circle cx="554.32" cy="101.5" r="2.3" fill="none" stroke="#222" stroke-width="0.85"/>
<circle cx="563.66" cy="103.4" r="2.3" fill="none" stroke="#222" stroke-width="0.85"/>
<circle cx="573" cy="105" r="2.3" fill="none" stroke="#222" stroke-width="0.85"/>
<circle cx="582.34" cy="105.9" r="2.3" fill="none" stroke="#222" stroke-width="0.85"/>
<circle cx="591.68" cy="106.9" r="2.3" fill="none" stroke="#222" stroke-width="0.85"/>
<circle cx="601.02" cy="107.6" r="2.3" fill="none" stroke="#222" stroke-width="0.85"/>
<circle cx="610.36" cy="108.9" r="2.3" fill="none" stroke="#222" stroke-width="0.85"/>
<circle cx="619.7" cy="109.5" r="2.3" fill="none" stroke="#222" stroke-width="0.85"/>
<circle cx="629.04" cy="110.1" r="2.3" fill="none" stroke="#222" stroke-width="0.85"/>
<circle cx="638.38" cy="110.5" r="2.3" fill="none" stroke="#222" stroke-width="0.85"/>
<circle cx="647.72" cy="110.9" r="2.3" fill="none" stroke="#222" stroke-width="0.85"/>
<circle cx="657.06" cy="110.9" r="2.3" fill="none" stroke="#222" stroke-width="0.85"/>
<polyline points="479.6,22.3 488.94,31 498.28,35 507.62,41.4 516.96,51.5 526.3,51.5 535.64,58.3 544.98,61.7 554.32,64.3 563.66,66.2 573,67.6 582.34,69.5 591.68,70.9 601.02,72.6 610.36,74 619.7,76.5 629.04,79 638.38,80.4 647.72,82.3 657.06,84.9" fill="none" stroke="#707070" stroke-width="0.9" stroke-linejoin="round"/>
<line x1="479.6" y1="17.8" x2="479.6" y2="26.8" stroke="#8c8c8c" stroke-width="0.9"/>
<line x1="477" y1="17.8" x2="482.2" y2="17.8" stroke="#8c8c8c" stroke-width="0.9"/>
<line x1="477" y1="26.8" x2="482.2" y2="26.8" stroke="#8c8c8c" stroke-width="0.9"/>
<line x1="488.94" y1="26" x2="488.94" y2="36" stroke="#8c8c8c" stroke-width="0.9"/>
<line x1="486.34" y1="26" x2="491.54" y2="26" stroke="#8c8c8c" stroke-width="0.9"/>
<line x1="486.34" y1="36" x2="491.54" y2="36" stroke="#8c8c8c" stroke-width="0.9"/>
<line x1="498.28" y1="29.2" x2="498.28" y2="40.8" stroke="#8c8c8c" stroke-width="0.9"/>
<line x1="495.68" y1="29.2" x2="500.88" y2="29.2" stroke="#8c8c8c" stroke-width="0.9"/>
<line x1="495.68" y1="40.8" x2="500.88" y2="40.8" stroke="#8c8c8c" stroke-width="0.9"/>
<line x1="507.62" y1="35.9" x2="507.62" y2="46.9" stroke="#8c8c8c" stroke-width="0.9"/>
<line x1="505.02" y1="35.9" x2="510.22" y2="35.9" stroke="#8c8c8c" stroke-width="0.9"/>
<line x1="505.02" y1="46.9" x2="510.22" y2="46.9" stroke="#8c8c8c" stroke-width="0.9"/>
<line x1="516.96" y1="47.9" x2="516.96" y2="55.1" stroke="#8c8c8c" stroke-width="0.9"/>
<line x1="514.36" y1="47.9" x2="519.56" y2="47.9" stroke="#8c8c8c" stroke-width="0.9"/>
<line x1="514.36" y1="55.1" x2="519.56" y2="55.1" stroke="#8c8c8c" stroke-width="0.9"/>
<line x1="526.3" y1="47.9" x2="526.3" y2="55.1" stroke="#8c8c8c" stroke-width="0.9"/>
<line x1="523.7" y1="47.9" x2="528.9" y2="47.9" stroke="#8c8c8c" stroke-width="0.9"/>
<line x1="523.7" y1="55.1" x2="528.9" y2="55.1" stroke="#8c8c8c" stroke-width="0.9"/>
<line x1="535.64" y1="55.7" x2="535.64" y2="60.9" stroke="#8c8c8c" stroke-width="0.9"/>
<line x1="533.04" y1="55.7" x2="538.24" y2="55.7" stroke="#8c8c8c" stroke-width="0.9"/>
<line x1="533.04" y1="60.9" x2="538.24" y2="60.9" stroke="#8c8c8c" stroke-width="0.9"/>
<line x1="544.98" y1="59.3" x2="544.98" y2="64.1" stroke="#8c8c8c" stroke-width="0.9"/>
<line x1="542.38" y1="59.3" x2="547.58" y2="59.3" stroke="#8c8c8c" stroke-width="0.9"/>
<line x1="542.38" y1="64.1" x2="547.58" y2="64.1" stroke="#8c8c8c" stroke-width="0.9"/>
<line x1="554.32" y1="61.7" x2="554.32" y2="66.9" stroke="#8c8c8c" stroke-width="0.9"/>
<line x1="551.72" y1="61.7" x2="556.92" y2="61.7" stroke="#8c8c8c" stroke-width="0.9"/>
<line x1="551.72" y1="66.9" x2="556.92" y2="66.9" stroke="#8c8c8c" stroke-width="0.9"/>
<line x1="563.66" y1="63.6" x2="563.66" y2="68.8" stroke="#8c8c8c" stroke-width="0.9"/>
<line x1="561.06" y1="63.6" x2="566.26" y2="63.6" stroke="#8c8c8c" stroke-width="0.9"/>
<line x1="561.06" y1="68.8" x2="566.26" y2="68.8" stroke="#8c8c8c" stroke-width="0.9"/>
<line x1="573" y1="65" x2="573" y2="70.2" stroke="#8c8c8c" stroke-width="0.9"/>
<line x1="570.4" y1="65" x2="575.6" y2="65" stroke="#8c8c8c" stroke-width="0.9"/>
<line x1="570.4" y1="70.2" x2="575.6" y2="70.2" stroke="#8c8c8c" stroke-width="0.9"/>
<line x1="582.34" y1="66.9" x2="582.34" y2="72.1" stroke="#8c8c8c" stroke-width="0.9"/>
<line x1="579.74" y1="66.9" x2="584.94" y2="66.9" stroke="#8c8c8c" stroke-width="0.9"/>
<line x1="579.74" y1="72.1" x2="584.94" y2="72.1" stroke="#8c8c8c" stroke-width="0.9"/>
<line x1="591.68" y1="67.9" x2="591.68" y2="73.9" stroke="#8c8c8c" stroke-width="0.9"/>
<line x1="589.08" y1="67.9" x2="594.28" y2="67.9" stroke="#8c8c8c" stroke-width="0.9"/>
<line x1="589.08" y1="73.9" x2="594.28" y2="73.9" stroke="#8c8c8c" stroke-width="0.9"/>
<line x1="601.02" y1="65.8" x2="601.02" y2="79.4" stroke="#8c8c8c" stroke-width="0.9"/>
<line x1="598.42" y1="65.8" x2="603.62" y2="65.8" stroke="#8c8c8c" stroke-width="0.9"/>
<line x1="598.42" y1="79.4" x2="603.62" y2="79.4" stroke="#8c8c8c" stroke-width="0.9"/>
<line x1="610.36" y1="65.7" x2="610.36" y2="82.3" stroke="#8c8c8c" stroke-width="0.9"/>
<line x1="607.76" y1="65.7" x2="612.96" y2="65.7" stroke="#8c8c8c" stroke-width="0.9"/>
<line x1="607.76" y1="82.3" x2="612.96" y2="82.3" stroke="#8c8c8c" stroke-width="0.9"/>
<line x1="619.7" y1="69.7" x2="619.7" y2="83.3" stroke="#8c8c8c" stroke-width="0.9"/>
<line x1="617.1" y1="69.7" x2="622.3" y2="69.7" stroke="#8c8c8c" stroke-width="0.9"/>
<line x1="617.1" y1="83.3" x2="622.3" y2="83.3" stroke="#8c8c8c" stroke-width="0.9"/>
<line x1="629.04" y1="72.8" x2="629.04" y2="85.2" stroke="#8c8c8c" stroke-width="0.9"/>
<line x1="626.44" y1="72.8" x2="631.64" y2="72.8" stroke="#8c8c8c" stroke-width="0.9"/>
<line x1="626.44" y1="85.2" x2="631.64" y2="85.2" stroke="#8c8c8c" stroke-width="0.9"/>
<line x1="638.38" y1="71.7" x2="638.38" y2="89.1" stroke="#8c8c8c" stroke-width="0.9"/>
<line x1="635.78" y1="71.7" x2="640.98" y2="71.7" stroke="#8c8c8c" stroke-width="0.9"/>
<line x1="635.78" y1="89.1" x2="640.98" y2="89.1" stroke="#8c8c8c" stroke-width="0.9"/>
<line x1="647.72" y1="77.8" x2="647.72" y2="86.8" stroke="#8c8c8c" stroke-width="0.9"/>
<line x1="645.12" y1="77.8" x2="650.32" y2="77.8" stroke="#8c8c8c" stroke-width="0.9"/>
<line x1="645.12" y1="86.8" x2="650.32" y2="86.8" stroke="#8c8c8c" stroke-width="0.9"/>
<line x1="657.06" y1="82.6" x2="657.06" y2="87.2" stroke="#8c8c8c" stroke-width="0.9"/>
<line x1="654.46" y1="82.6" x2="659.66" y2="82.6" stroke="#8c8c8c" stroke-width="0.9"/>
<line x1="654.46" y1="87.2" x2="659.66" y2="87.2" stroke="#8c8c8c" stroke-width="0.9"/>
<polygon points="479.6,25 476.77,20.27 482.44,20.27" fill="#707070"/>
<polygon points="488.94,33.7 486.11,28.98 491.77,28.98" fill="#707070"/>
<polygon points="498.28,37.7 495.45,32.98 501.12,32.98" fill="#707070"/>
<polygon points="507.62,44.1 504.79,39.38 510.45,39.38" fill="#707070"/>
<polygon points="516.96,54.2 514.12,49.48 519.8,49.48" fill="#707070"/>
<polygon points="526.3,54.2 523.47,49.48 529.14,49.48" fill="#707070"/>
<polygon points="535.64,61 532.8,56.27 538.48,56.27" fill="#707070"/>
<polygon points="544.98,64.4 542.14,59.68 547.82,59.68" fill="#707070"/>
<polygon points="554.32,67 551.49,62.27 557.16,62.27" fill="#707070"/>
<polygon points="563.66,68.9 560.83,64.17 566.5,64.17" fill="#707070"/>
<polygon points="573,70.3 570.16,65.57 575.84,65.57" fill="#707070"/>
<polygon points="582.34,72.2 579.5,67.47 585.18,67.47" fill="#707070"/>
<polygon points="591.68,73.6 588.85,68.88 594.52,68.88" fill="#707070"/>
<polygon points="601.02,75.3 598.18,70.57 603.86,70.57" fill="#707070"/>
<polygon points="610.36,76.7 607.52,71.97 613.2,71.97" fill="#707070"/>
<polygon points="619.7,79.2 616.87,74.47 622.54,74.47" fill="#707070"/>
<polygon points="629.04,81.7 626.2,76.97 631.88,76.97" fill="#707070"/>
<polygon points="638.38,83.1 635.54,78.38 641.22,78.38" fill="#707070"/>
<polygon points="647.72,85 644.88,80.27 650.56,80.27" fill="#707070"/>
<polygon points="657.06,87.6 654.23,82.88 659.9,82.88" fill="#707070"/>
<polyline points="479.6,15.1 488.94,19.4 498.28,26.8 507.62,29.1 516.96,34 526.3,38.3 535.64,43.7 544.98,48.8 554.32,52.6 563.66,57.9 573,60.8 582.34,62.3 591.68,64.5 601.02,72.3 610.36,72 619.7,72.5 629.04,73.5 638.38,73.5 647.72,76 657.06,78.4" fill="none" stroke="#111" stroke-width="0.9" stroke-linejoin="round"/>
<line x1="479.6" y1="13.5" x2="479.6" y2="16.7" stroke="#222" stroke-width="0.9"/>
<line x1="477" y1="13.5" x2="482.2" y2="13.5" stroke="#222" stroke-width="0.9"/>
<line x1="477" y1="16.7" x2="482.2" y2="16.7" stroke="#222" stroke-width="0.9"/>
<line x1="488.94" y1="16.4" x2="488.94" y2="22.4" stroke="#222" stroke-width="0.9"/>
<line x1="486.34" y1="16.4" x2="491.54" y2="16.4" stroke="#222" stroke-width="0.9"/>
<line x1="486.34" y1="22.4" x2="491.54" y2="22.4" stroke="#222" stroke-width="0.9"/>
<line x1="498.28" y1="22.8" x2="498.28" y2="30.8" stroke="#222" stroke-width="0.9"/>
<line x1="495.68" y1="22.8" x2="500.88" y2="22.8" stroke="#222" stroke-width="0.9"/>
<line x1="495.68" y1="30.8" x2="500.88" y2="30.8" stroke="#222" stroke-width="0.9"/>
<line x1="507.62" y1="23.3" x2="507.62" y2="34.9" stroke="#222" stroke-width="0.9"/>
<line x1="505.02" y1="23.3" x2="510.22" y2="23.3" stroke="#222" stroke-width="0.9"/>
<line x1="505.02" y1="34.9" x2="510.22" y2="34.9" stroke="#222" stroke-width="0.9"/>
<line x1="516.96" y1="30" x2="516.96" y2="38" stroke="#222" stroke-width="0.9"/>
<line x1="514.36" y1="30" x2="519.56" y2="30" stroke="#222" stroke-width="0.9"/>
<line x1="514.36" y1="38" x2="519.56" y2="38" stroke="#222" stroke-width="0.9"/>
<line x1="526.3" y1="34.3" x2="526.3" y2="42.3" stroke="#222" stroke-width="0.9"/>
<line x1="523.7" y1="34.3" x2="528.9" y2="34.3" stroke="#222" stroke-width="0.9"/>
<line x1="523.7" y1="42.3" x2="528.9" y2="42.3" stroke="#222" stroke-width="0.9"/>
<line x1="535.64" y1="36.3" x2="535.64" y2="51.1" stroke="#222" stroke-width="0.9"/>
<line x1="533.04" y1="36.3" x2="538.24" y2="36.3" stroke="#222" stroke-width="0.9"/>
<line x1="533.04" y1="51.1" x2="538.24" y2="51.1" stroke="#222" stroke-width="0.9"/>
<line x1="544.98" y1="41.4" x2="544.98" y2="56.2" stroke="#222" stroke-width="0.9"/>
<line x1="542.38" y1="41.4" x2="547.58" y2="41.4" stroke="#222" stroke-width="0.9"/>
<line x1="542.38" y1="56.2" x2="547.58" y2="56.2" stroke="#222" stroke-width="0.9"/>
<line x1="554.32" y1="44.6" x2="554.32" y2="60.6" stroke="#222" stroke-width="0.9"/>
<line x1="551.72" y1="44.6" x2="556.92" y2="44.6" stroke="#222" stroke-width="0.9"/>
<line x1="551.72" y1="60.6" x2="556.92" y2="60.6" stroke="#222" stroke-width="0.9"/>
<line x1="563.66" y1="50.5" x2="563.66" y2="65.3" stroke="#222" stroke-width="0.9"/>
<line x1="561.06" y1="50.5" x2="566.26" y2="50.5" stroke="#222" stroke-width="0.9"/>
<line x1="561.06" y1="65.3" x2="566.26" y2="65.3" stroke="#222" stroke-width="0.9"/>
<line x1="573" y1="53.4" x2="573" y2="68.2" stroke="#222" stroke-width="0.9"/>
<line x1="570.4" y1="53.4" x2="575.6" y2="53.4" stroke="#222" stroke-width="0.9"/>
<line x1="570.4" y1="68.2" x2="575.6" y2="68.2" stroke="#222" stroke-width="0.9"/>
<line x1="582.34" y1="55" x2="582.34" y2="69.6" stroke="#222" stroke-width="0.9"/>
<line x1="579.74" y1="55" x2="584.94" y2="55" stroke="#222" stroke-width="0.9"/>
<line x1="579.74" y1="69.6" x2="584.94" y2="69.6" stroke="#222" stroke-width="0.9"/>
<line x1="591.68" y1="57.3" x2="591.68" y2="71.7" stroke="#222" stroke-width="0.9"/>
<line x1="589.08" y1="57.3" x2="594.28" y2="57.3" stroke="#222" stroke-width="0.9"/>
<line x1="589.08" y1="71.7" x2="594.28" y2="71.7" stroke="#222" stroke-width="0.9"/>
<line x1="601.02" y1="66.6" x2="601.02" y2="78" stroke="#222" stroke-width="0.9"/>
<line x1="598.42" y1="66.6" x2="603.62" y2="66.6" stroke="#222" stroke-width="0.9"/>
<line x1="598.42" y1="78" x2="603.62" y2="78" stroke="#222" stroke-width="0.9"/>
<line x1="610.36" y1="66.6" x2="610.36" y2="77.4" stroke="#222" stroke-width="0.9"/>
<line x1="607.76" y1="66.6" x2="612.96" y2="66.6" stroke="#222" stroke-width="0.9"/>
<line x1="607.76" y1="77.4" x2="612.96" y2="77.4" stroke="#222" stroke-width="0.9"/>
<line x1="619.7" y1="67.6" x2="619.7" y2="77.4" stroke="#222" stroke-width="0.9"/>
<line x1="617.1" y1="67.6" x2="622.3" y2="67.6" stroke="#222" stroke-width="0.9"/>
<line x1="617.1" y1="77.4" x2="622.3" y2="77.4" stroke="#222" stroke-width="0.9"/>
<line x1="629.04" y1="68.2" x2="629.04" y2="78.8" stroke="#222" stroke-width="0.9"/>
<line x1="626.44" y1="68.2" x2="631.64" y2="68.2" stroke="#222" stroke-width="0.9"/>
<line x1="626.44" y1="78.8" x2="631.64" y2="78.8" stroke="#222" stroke-width="0.9"/>
<line x1="638.38" y1="67.6" x2="638.38" y2="79.4" stroke="#222" stroke-width="0.9"/>
<line x1="635.78" y1="67.6" x2="640.98" y2="67.6" stroke="#222" stroke-width="0.9"/>
<line x1="635.78" y1="79.4" x2="640.98" y2="79.4" stroke="#222" stroke-width="0.9"/>
<line x1="647.72" y1="70" x2="647.72" y2="82" stroke="#222" stroke-width="0.9"/>
<line x1="645.12" y1="70" x2="650.32" y2="70" stroke="#222" stroke-width="0.9"/>
<line x1="645.12" y1="82" x2="650.32" y2="82" stroke="#222" stroke-width="0.9"/>
<line x1="657.06" y1="72.8" x2="657.06" y2="84" stroke="#222" stroke-width="0.9"/>
<line x1="654.46" y1="72.8" x2="659.66" y2="72.8" stroke="#222" stroke-width="0.9"/>
<line x1="654.46" y1="84" x2="659.66" y2="84" stroke="#222" stroke-width="0.9"/>
<polygon points="479.6,12.5 482.2,15.1 479.6,17.7 477,15.1" fill="#000"/>
<polygon points="488.94,16.8 491.54,19.4 488.94,22 486.34,19.4" fill="#000"/>
<polygon points="498.28,24.2 500.88,26.8 498.28,29.4 495.68,26.8" fill="#000"/>
<polygon points="507.62,26.5 510.22,29.1 507.62,31.7 505.02,29.1" fill="#000"/>
<polygon points="516.96,31.4 519.56,34 516.96,36.6 514.36,34" fill="#000"/>
<polygon points="526.3,35.7 528.9,38.3 526.3,40.9 523.7,38.3" fill="#000"/>
<polygon points="535.64,41.1 538.24,43.7 535.64,46.3 533.04,43.7" fill="#000"/>
<polygon points="544.98,46.2 547.58,48.8 544.98,51.4 542.38,48.8" fill="#000"/>
<polygon points="554.32,50 556.92,52.6 554.32,55.2 551.72,52.6" fill="#000"/>
<polygon points="563.66,55.3 566.26,57.9 563.66,60.5 561.06,57.9" fill="#000"/>
<polygon points="573,58.2 575.6,60.8 573,63.4 570.4,60.8" fill="#000"/>
<polygon points="582.34,59.7 584.94,62.3 582.34,64.9 579.74,62.3" fill="#000"/>
<polygon points="591.68,61.9 594.28,64.5 591.68,67.1 589.08,64.5" fill="#000"/>
<polygon points="601.02,69.7 603.62,72.3 601.02,74.9 598.42,72.3" fill="#000"/>
<polygon points="610.36,69.4 612.96,72 610.36,74.6 607.76,72" fill="#000"/>
<polygon points="619.7,69.9 622.3,72.5 619.7,75.1 617.1,72.5" fill="#000"/>
<polygon points="629.04,70.9 631.64,73.5 629.04,76.1 626.44,73.5" fill="#000"/>
<polygon points="638.38,70.9 640.98,73.5 638.38,76.1 635.78,73.5" fill="#000"/>
<polygon points="647.72,73.4 650.32,76 647.72,78.6 645.12,76" fill="#000"/>
<polygon points="657.06,75.8 659.66,78.4 657.06,81 654.46,78.4" fill="#000"/>
<line x1="610.9" y1="29.7" x2="617.7" y2="29.7" stroke="#444" stroke-width="0.8"/>
<line x1="610.9" y1="39.3" x2="617.7" y2="39.3" stroke="#d4d4d4" stroke-width="0.8"/>
<line x1="610.9" y1="48.4" x2="617.7" y2="48.4" stroke="#707070" stroke-width="0.8"/>
<line x1="610.9" y1="56.9" x2="617.7" y2="56.9" stroke="#111" stroke-width="0.8"/>
<circle cx="614.3" cy="29.7" r="2.5" fill="#fff" stroke="#222" stroke-width="0.9"/>
<line x1="614.3" y1="28.6" x2="614.3" y2="30.8" stroke="#333" stroke-width="0.7"/>
<polygon points="614.3,36.7 611.57,41.25 617.03,41.25" fill="#d4d4d4"/>
<polygon points="614.3,51 611.57,46.45 617.03,46.45" fill="#707070"/>
<polygon points="614.3,54.3 616.9,56.9 614.3,59.5 611.7,56.9" fill="#000"/>
<text x="621.4" y="31.3" font-family='"Liberation Serif", serif' font-size="4.75" fill="#222">GelMA</text>
<text x="621.4" y="40.8" font-family='"Liberation Serif", serif' font-size="4.75" fill="#222">GelMA/Alg0.1</text>
<text x="621.4" y="50.1" font-family='"Liberation Serif", serif' font-size="4.75" fill="#222">GelMA/Alg0.3</text>
<text x="621.4" y="58.5" font-family='"Liberation Serif", serif' font-size="4.75" fill="#222">GelMA/Alg0.5</text>
<text x="0.9" y="179" font-family='"Liberation Serif", serif' font-size="10.9" font-weight="bold" fill="#111">d)</text>
<line x1="24.5" y1="283.4" x2="24.5" y2="281.4" stroke="#222" stroke-width="0.7"/>
<line x1="24.5" y1="184.2" x2="24.5" y2="186.2" stroke="#222" stroke-width="0.7"/>
<line x1="35.33" y1="283.4" x2="35.33" y2="282.2" stroke="#222" stroke-width="0.7"/>
<line x1="35.33" y1="184.2" x2="35.33" y2="185.4" stroke="#222" stroke-width="0.7"/>
<line x1="41.66" y1="283.4" x2="41.66" y2="282.2" stroke="#222" stroke-width="0.7"/>
<line x1="41.66" y1="184.2" x2="41.66" y2="185.4" stroke="#222" stroke-width="0.7"/>
<line x1="46.16" y1="283.4" x2="46.16" y2="282.2" stroke="#222" stroke-width="0.7"/>
<line x1="46.16" y1="184.2" x2="46.16" y2="185.4" stroke="#222" stroke-width="0.7"/>
<line x1="49.65" y1="283.4" x2="49.65" y2="282.2" stroke="#222" stroke-width="0.7"/>
<line x1="49.65" y1="184.2" x2="49.65" y2="185.4" stroke="#222" stroke-width="0.7"/>
<line x1="52.49" y1="283.4" x2="52.49" y2="282.2" stroke="#222" stroke-width="0.7"/>
<line x1="52.49" y1="184.2" x2="52.49" y2="185.4" stroke="#222" stroke-width="0.7"/>
<line x1="54.9" y1="283.4" x2="54.9" y2="282.2" stroke="#222" stroke-width="0.7"/>
<line x1="54.9" y1="184.2" x2="54.9" y2="185.4" stroke="#222" stroke-width="0.7"/>
<line x1="56.99" y1="283.4" x2="56.99" y2="282.2" stroke="#222" stroke-width="0.7"/>
<line x1="56.99" y1="184.2" x2="56.99" y2="185.4" stroke="#222" stroke-width="0.7"/>
<line x1="58.83" y1="283.4" x2="58.83" y2="282.2" stroke="#222" stroke-width="0.7"/>
<line x1="58.83" y1="184.2" x2="58.83" y2="185.4" stroke="#222" stroke-width="0.7"/>
<line x1="60.48" y1="283.4" x2="60.48" y2="281.4" stroke="#222" stroke-width="0.7"/>
<line x1="60.48" y1="184.2" x2="60.48" y2="186.2" stroke="#222" stroke-width="0.7"/>
<line x1="71.3" y1="283.4" x2="71.3" y2="282.2" stroke="#222" stroke-width="0.7"/>
<line x1="71.3" y1="184.2" x2="71.3" y2="185.4" stroke="#222" stroke-width="0.7"/>
<line x1="77.64" y1="283.4" x2="77.64" y2="282.2" stroke="#222" stroke-width="0.7"/>
<line x1="77.64" y1="184.2" x2="77.64" y2="185.4" stroke="#222" stroke-width="0.7"/>
<line x1="82.13" y1="283.4" x2="82.13" y2="282.2" stroke="#222" stroke-width="0.7"/>
<line x1="82.13" y1="184.2" x2="82.13" y2="185.4" stroke="#222" stroke-width="0.7"/>
<line x1="85.62" y1="283.4" x2="85.62" y2="282.2" stroke="#222" stroke-width="0.7"/>
<line x1="85.62" y1="184.2" x2="85.62" y2="185.4" stroke="#222" stroke-width="0.7"/>
<line x1="88.47" y1="283.4" x2="88.47" y2="282.2" stroke="#222" stroke-width="0.7"/>
<line x1="88.47" y1="184.2" x2="88.47" y2="185.4" stroke="#222" stroke-width="0.7"/>
<line x1="90.88" y1="283.4" x2="90.88" y2="282.2" stroke="#222" stroke-width="0.7"/>
<line x1="90.88" y1="184.2" x2="90.88" y2="185.4" stroke="#222" stroke-width="0.7"/>
<line x1="92.96" y1="283.4" x2="92.96" y2="282.2" stroke="#222" stroke-width="0.7"/>
<line x1="92.96" y1="184.2" x2="92.96" y2="185.4" stroke="#222" stroke-width="0.7"/>
<line x1="94.8" y1="283.4" x2="94.8" y2="282.2" stroke="#222" stroke-width="0.7"/>
<line x1="94.8" y1="184.2" x2="94.8" y2="185.4" stroke="#222" stroke-width="0.7"/>
<line x1="96.45" y1="283.4" x2="96.45" y2="281.4" stroke="#222" stroke-width="0.7"/>
<line x1="96.45" y1="184.2" x2="96.45" y2="186.2" stroke="#222" stroke-width="0.7"/>
<line x1="107.28" y1="283.4" x2="107.28" y2="282.2" stroke="#222" stroke-width="0.7"/>
<line x1="107.28" y1="184.2" x2="107.28" y2="185.4" stroke="#222" stroke-width="0.7"/>
<line x1="113.61" y1="283.4" x2="113.61" y2="282.2" stroke="#222" stroke-width="0.7"/>
<line x1="113.61" y1="184.2" x2="113.61" y2="185.4" stroke="#222" stroke-width="0.7"/>
<line x1="118.11" y1="283.4" x2="118.11" y2="282.2" stroke="#222" stroke-width="0.7"/>
<line x1="118.11" y1="184.2" x2="118.11" y2="185.4" stroke="#222" stroke-width="0.7"/>
<line x1="121.6" y1="283.4" x2="121.6" y2="282.2" stroke="#222" stroke-width="0.7"/>
<line x1="121.6" y1="184.2" x2="121.6" y2="185.4" stroke="#222" stroke-width="0.7"/>
<line x1="124.44" y1="283.4" x2="124.44" y2="282.2" stroke="#222" stroke-width="0.7"/>
<line x1="124.44" y1="184.2" x2="124.44" y2="185.4" stroke="#222" stroke-width="0.7"/>
<line x1="126.85" y1="283.4" x2="126.85" y2="282.2" stroke="#222" stroke-width="0.7"/>
<line x1="126.85" y1="184.2" x2="126.85" y2="185.4" stroke="#222" stroke-width="0.7"/>
<line x1="128.94" y1="283.4" x2="128.94" y2="282.2" stroke="#222" stroke-width="0.7"/>
<line x1="128.94" y1="184.2" x2="128.94" y2="185.4" stroke="#222" stroke-width="0.7"/>
<line x1="130.78" y1="283.4" x2="130.78" y2="282.2" stroke="#222" stroke-width="0.7"/>
<line x1="130.78" y1="184.2" x2="130.78" y2="185.4" stroke="#222" stroke-width="0.7"/>
<line x1="132.43" y1="283.4" x2="132.43" y2="281.4" stroke="#222" stroke-width="0.7"/>
<line x1="132.43" y1="184.2" x2="132.43" y2="186.2" stroke="#222" stroke-width="0.7"/>
<line x1="143.25" y1="283.4" x2="143.25" y2="282.2" stroke="#222" stroke-width="0.7"/>
<line x1="143.25" y1="184.2" x2="143.25" y2="185.4" stroke="#222" stroke-width="0.7"/>
<line x1="149.59" y1="283.4" x2="149.59" y2="282.2" stroke="#222" stroke-width="0.7"/>
<line x1="149.59" y1="184.2" x2="149.59" y2="185.4" stroke="#222" stroke-width="0.7"/>
<line x1="154.08" y1="283.4" x2="154.08" y2="282.2" stroke="#222" stroke-width="0.7"/>
<line x1="154.08" y1="184.2" x2="154.08" y2="185.4" stroke="#222" stroke-width="0.7"/>
<line x1="157.57" y1="283.4" x2="157.57" y2="282.2" stroke="#222" stroke-width="0.7"/>
<line x1="157.57" y1="184.2" x2="157.57" y2="185.4" stroke="#222" stroke-width="0.7"/>
<line x1="160.42" y1="283.4" x2="160.42" y2="282.2" stroke="#222" stroke-width="0.7"/>
<line x1="160.42" y1="184.2" x2="160.42" y2="185.4" stroke="#222" stroke-width="0.7"/>
<line x1="162.83" y1="283.4" x2="162.83" y2="282.2" stroke="#222" stroke-width="0.7"/>
<line x1="162.83" y1="184.2" x2="162.83" y2="185.4" stroke="#222" stroke-width="0.7"/>
<line x1="164.91" y1="283.4" x2="164.91" y2="282.2" stroke="#222" stroke-width="0.7"/>
<line x1="164.91" y1="184.2" x2="164.91" y2="185.4" stroke="#222" stroke-width="0.7"/>
<line x1="166.75" y1="283.4" x2="166.75" y2="282.2" stroke="#222" stroke-width="0.7"/>
<line x1="166.75" y1="184.2" x2="166.75" y2="185.4" stroke="#222" stroke-width="0.7"/>
<line x1="24.5" y1="281.37" x2="25.7" y2="281.37" stroke="#222" stroke-width="0.7"/>
<line x1="168.4" y1="281.37" x2="167.2" y2="281.37" stroke="#222" stroke-width="0.7"/>
<line x1="24.5" y1="279.2" x2="26.5" y2="279.2" stroke="#222" stroke-width="0.7"/>
<line x1="168.4" y1="279.2" x2="166.4" y2="279.2" stroke="#222" stroke-width="0.7"/>
<line x1="24.5" y1="264.9" x2="25.7" y2="264.9" stroke="#222" stroke-width="0.7"/>
<line x1="168.4" y1="264.9" x2="167.2" y2="264.9" stroke="#222" stroke-width="0.7"/>
<line x1="24.5" y1="256.54" x2="25.7" y2="256.54" stroke="#222" stroke-width="0.7"/>
<line x1="168.4" y1="256.54" x2="167.2" y2="256.54" stroke="#222" stroke-width="0.7"/>
<line x1="24.5" y1="250.6" x2="25.7" y2="250.6" stroke="#222" stroke-width="0.7"/>
<line x1="168.4" y1="250.6" x2="167.2" y2="250.6" stroke="#222" stroke-width="0.7"/>
<line x1="24.5" y1="246" x2="25.7" y2="246" stroke="#222" stroke-width="0.7"/>
<line x1="168.4" y1="246" x2="167.2" y2="246" stroke="#222" stroke-width="0.7"/>
<line x1="24.5" y1="242.24" x2="25.7" y2="242.24" stroke="#222" stroke-width="0.7"/>
<line x1="168.4" y1="242.24" x2="167.2" y2="242.24" stroke="#222" stroke-width="0.7"/>
<line x1="24.5" y1="239.06" x2="25.7" y2="239.06" stroke="#222" stroke-width="0.7"/>
<line x1="168.4" y1="239.06" x2="167.2" y2="239.06" stroke="#222" stroke-width="0.7"/>
<line x1="24.5" y1="236.3" x2="25.7" y2="236.3" stroke="#222" stroke-width="0.7"/>
<line x1="168.4" y1="236.3" x2="167.2" y2="236.3" stroke="#222" stroke-width="0.7"/>
<line x1="24.5" y1="233.87" x2="25.7" y2="233.87" stroke="#222" stroke-width="0.7"/>
<line x1="168.4" y1="233.87" x2="167.2" y2="233.87" stroke="#222" stroke-width="0.7"/>
<line x1="24.5" y1="231.7" x2="26.5" y2="231.7" stroke="#222" stroke-width="0.7"/>
<line x1="168.4" y1="231.7" x2="166.4" y2="231.7" stroke="#222" stroke-width="0.7"/>
<line x1="24.5" y1="217.4" x2="25.7" y2="217.4" stroke="#222" stroke-width="0.7"/>
<line x1="168.4" y1="217.4" x2="167.2" y2="217.4" stroke="#222" stroke-width="0.7"/>
<line x1="24.5" y1="209.04" x2="25.7" y2="209.04" stroke="#222" stroke-width="0.7"/>
<line x1="168.4" y1="209.04" x2="167.2" y2="209.04" stroke="#222" stroke-width="0.7"/>
<line x1="24.5" y1="203.1" x2="25.7" y2="203.1" stroke="#222" stroke-width="0.7"/>
<line x1="168.4" y1="203.1" x2="167.2" y2="203.1" stroke="#222" stroke-width="0.7"/>
<line x1="24.5" y1="198.5" x2="25.7" y2="198.5" stroke="#222" stroke-width="0.7"/>
<line x1="168.4" y1="198.5" x2="167.2" y2="198.5" stroke="#222" stroke-width="0.7"/>
<line x1="24.5" y1="194.74" x2="25.7" y2="194.74" stroke="#222" stroke-width="0.7"/>
<line x1="168.4" y1="194.74" x2="167.2" y2="194.74" stroke="#222" stroke-width="0.7"/>
<line x1="24.5" y1="191.56" x2="25.7" y2="191.56" stroke="#222" stroke-width="0.7"/>
<line x1="168.4" y1="191.56" x2="167.2" y2="191.56" stroke="#222" stroke-width="0.7"/>
<line x1="24.5" y1="188.8" x2="25.7" y2="188.8" stroke="#222" stroke-width="0.7"/>
<line x1="168.4" y1="188.8" x2="167.2" y2="188.8" stroke="#222" stroke-width="0.7"/>
<line x1="24.5" y1="186.37" x2="25.7" y2="186.37" stroke="#222" stroke-width="0.7"/>
<line x1="168.4" y1="186.37" x2="167.2" y2="186.37" stroke="#222" stroke-width="0.7"/>
<line x1="24.5" y1="184.2" x2="26.5" y2="184.2" stroke="#222" stroke-width="0.7"/>
<line x1="168.4" y1="184.2" x2="166.4" y2="184.2" stroke="#222" stroke-width="0.7"/>
<rect x="24.5" y="184.2" width="143.9" height="99.2" fill="none" stroke="#333" stroke-width="1.05"/>
<text x="24.5" y="293.1" font-family='"Liberation Sans", sans-serif' font-size="6.5" text-anchor="middle" fill="#4a4a4a">10<tspan dy="-2.5" font-size="4.81">-1</tspan></text>
<text x="60.48" y="293.1" font-family='"Liberation Sans", sans-serif' font-size="6.5" text-anchor="middle" fill="#4a4a4a">10<tspan dy="-2.5" font-size="4.81">0</tspan></text>
<text x="96.45" y="293.1" font-family='"Liberation Sans", sans-serif' font-size="6.5" text-anchor="middle" fill="#4a4a4a">10<tspan dy="-2.5" font-size="4.81">1</tspan></text>
<text x="132.43" y="293.1" font-family='"Liberation Sans", sans-serif' font-size="6.5" text-anchor="middle" fill="#4a4a4a">10<tspan dy="-2.5" font-size="4.81">2</tspan></text>
<text x="168.4" y="293.1" font-family='"Liberation Sans", sans-serif' font-size="6.5" text-anchor="middle" fill="#4a4a4a">10</text>
<text x="22.5" y="187.5" font-family='"Liberation Sans", sans-serif' font-size="6.5" text-anchor="end" fill="#4a4a4a">10<tspan dy="-2.5" font-size="4.81">0</tspan></text>
<text x="22.5" y="235" font-family='"Liberation Sans", sans-serif' font-size="6.5" text-anchor="end" fill="#4a4a4a">10<tspan dy="-2.5" font-size="4.81">-1</tspan></text>
<text x="22.5" y="282.5" font-family='"Liberation Sans", sans-serif' font-size="6.5" text-anchor="end" fill="#4a4a4a">10<tspan dy="-2.5" font-size="4.81">-2</tspan></text>
<text x="97" y="304.5" font-family='"Liberation Serif", serif' font-size="8.2" text-anchor="middle" fill="#222">Shear rate (1/s)</text>
<text x="7.3" y="233.8" font-family='"Liberation Serif", serif' font-size="8.2" text-anchor="middle" fill="#222" transform="rotate(-90 7.3 233.8)">Viscosity (Pa.s)</text>
<text x="96.4" y="180.4" font-family='"Liberation Serif", serif' font-size="8.2" text-anchor="middle" fill="#222">GelMA</text>
<polyline points="24.5,197.1 25.31,197.37 26.44,197.72 27.78,198.15 29.18,198.64 30.53,199.2 31.7,199.8 32.7,200.47 33.62,201.22 34.49,202.03 35.32,202.88 36.12,203.74 36.9,204.6 37.64,205.45 38.34,206.31 39,207.18 39.65,208.08 40.31,209.02 41,210 41.71,211 42.43,212 43.15,213.04 43.89,214.15 44.63,215.36 45.4,216.7 46.21,218.22 47.06,219.91 47.92,221.71 48.77,223.53 49.57,225.32 50.3,227 50.95,228.6 51.53,230.17 52.07,231.71 52.59,233.2 53.09,234.63 53.6,236 54.11,237.29 54.61,238.5 55.11,239.66 55.59,240.78 56.05,241.89 56.5,243 56.92,244.08 57.29,245.11 57.66,246.12 58.03,247.17 58.44,248.28 58.9,249.5 59.43,250.87 60,252.36 60.61,253.92 61.24,255.5 61.87,257.04 62.5,258.5 63.12,259.89 63.76,261.27 64.39,262.61 65.03,263.9 65.67,265.14 66.3,266.3 66.92,267.39 67.54,268.4 68.16,269.36 68.77,270.27 69.38,271.15 70,272 70.61,272.82 71.21,273.61 71.81,274.37 72.42,275.09 73.05,275.76 73.7,276.4 74.38,277 75.1,277.55 75.83,278.07 76.56,278.55 77.29,278.99 78,279.4 78.62,279.76 79.14,280.06 79.66,280.33 80.27,280.58 81.05,280.83 82.1,281.1 83.17,281.4 84.13,281.71 85.27,282.03 86.87,282.33 89.22,282.59 92.6,282.8 97.27,282.95 103.04,283.04 109.56,283.1 116.46,283.14 123.4,283.17 130,283.2 136.79,283.24 144.15,283.26 151.54,283.27 158.41,283.29 164.21,283.29 168.4,283.3" fill="none" stroke="#2630e6" stroke-width="1.1" stroke-linejoin="round"/>
<polyline points="24.5,197.1 25.31,197.37 26.44,197.72 27.78,198.15 29.18,198.64 30.53,199.2 31.7,199.8 32.7,200.47 33.62,201.22 34.49,202.03 35.32,202.88 36.12,203.74 36.9,204.6 37.64,205.45 38.34,206.31 39,207.18 39.65,208.08 40.31,209.02 41,210 41.71,211 42.42,212 43.14,213.04 43.87,214.15 44.62,215.36 45.4,216.7 46.22,218.22 47.09,219.91 47.98,221.7 48.86,223.52 49.71,225.31 50.5,227 51.22,228.59 51.89,230.15 52.53,231.67 53.14,233.16 53.76,234.64 54.4,236.1 55.06,237.57 55.74,239.05 56.42,240.51 57.08,241.92 57.71,243.26 58.3,244.5 58.79,245.55 59.19,246.41 59.55,247.19 59.95,248.03 60.44,249.02 61.1,250.3 61.94,251.94 62.9,253.85 63.97,255.93 65.1,258.06 66.25,260.12 67.4,262 68.56,263.73 69.76,265.4 70.98,267 72.22,268.53 73.47,269.96 74.7,271.3 75.89,272.52 77.04,273.64 78.2,274.67 79.4,275.63 80.69,276.53 82.1,277.4 83.67,278.24 85.37,279.05 87.15,279.81 88.98,280.49 90.81,281.1 92.6,281.6 94.17,281.98 95.53,282.25 96.88,282.44 98.46,282.57 100.49,282.68 103.2,282.8 106.59,282.92 110.5,283 114.86,283.07 119.61,283.12 124.67,283.16 130,283.2 136.17,283.24 143.36,283.26 150.88,283.27 158.01,283.29 164.09,283.29 168.4,283.3" fill="none" stroke="#e8232a" stroke-width="1.1" stroke-linejoin="round"/>
<circle cx="24.4" cy="195" r="1.45" fill="none" stroke="#2b86c8" stroke-width="0.8"/>
<circle cx="31.6" cy="201.7" r="1.45" fill="none" stroke="#2b86c8" stroke-width="0.8"/>
<circle cx="38.8" cy="206.8" r="1.45" fill="none" stroke="#2b86c8" stroke-width="0.8"/>
<circle cx="46" cy="214.6" r="1.45" fill="none" stroke="#2b86c8" stroke-width="0.8"/>
<circle cx="53.2" cy="238.9" r="1.45" fill="none" stroke="#2b86c8" stroke-width="0.8"/>
<circle cx="60.4" cy="253.7" r="1.45" fill="none" stroke="#2b86c8" stroke-width="0.8"/>
<circle cx="67.6" cy="253.7" r="1.45" fill="none" stroke="#2b86c8" stroke-width="0.8"/>
<circle cx="74.8" cy="271.2" r="1.45" fill="none" stroke="#2b86c8" stroke-width="0.8"/>
<circle cx="82" cy="265.9" r="1.45" fill="none" stroke="#2b86c8" stroke-width="0.8"/>
<circle cx="89.2" cy="270.1" r="1.45" fill="none" stroke="#2b86c8" stroke-width="0.8"/>
<circle cx="96.4" cy="272.3" r="1.45" fill="none" stroke="#2b86c8" stroke-width="0.8"/>
<circle cx="103.6" cy="274.4" r="1.45" fill="none" stroke="#2b86c8" stroke-width="0.8"/>
<circle cx="110.8" cy="277" r="1.45" fill="none" stroke="#2b86c8" stroke-width="0.8"/>
<circle cx="118" cy="279" r="1.45" fill="none" stroke="#2b86c8" stroke-width="0.8"/>
<circle cx="125.2" cy="280.3" r="1.45" fill="none" stroke="#2b86c8" stroke-width="0.8"/>
<circle cx="132.4" cy="281.4" r="1.45" fill="none" stroke="#2b86c8" stroke-width="0.8"/>
<circle cx="139.6" cy="282.5" r="1.45" fill="none" stroke="#2b86c8" stroke-width="0.8"/>
<circle cx="146.8" cy="283" r="1.45" fill="none" stroke="#2b86c8" stroke-width="0.8"/>
<circle cx="154" cy="283.6" r="1.45" fill="none" stroke="#2b86c8" stroke-width="0.8"/>
<circle cx="161.2" cy="283.6" r="1.45" fill="none" stroke="#2b86c8" stroke-width="0.8"/>
<circle cx="98.7" cy="190.2" r="1.45" fill="none" stroke="#2b86c8" stroke-width="0.8"/>
<line x1="89.1" y1="200.1" x2="107.3" y2="200.1" stroke="#3f7fd0" stroke-width="1.1" stroke-dasharray="2.6 1.4"/>
<line x1="89.8" y1="208.8" x2="107.4" y2="208.8" stroke="#e8232a" stroke-width="1.1"/>
<text x="111.5" y="192.3" font-family='"Liberation Serif", serif' font-size="7.4" fill="#222">Experimental</text>
<text x="111.5" y="201.8" font-family='"Liberation Serif", serif' font-size="7.4" fill="#222">Carreau</text>
<text x="111.5" y="210.8" font-family='"Liberation Serif", serif' font-size="7.4" fill="#222">Carreau-Yasuda</text>
<line x1="196.8" y1="282.3" x2="196.8" y2="280.3" stroke="#222" stroke-width="0.7"/>
<line x1="196.8" y1="183.5" x2="196.8" y2="185.5" stroke="#222" stroke-width="0.7"/>
<line x1="207.62" y1="282.3" x2="207.62" y2="281.1" stroke="#222" stroke-width="0.7"/>
<line x1="207.62" y1="183.5" x2="207.62" y2="184.7" stroke="#222" stroke-width="0.7"/>
<line x1="213.95" y1="282.3" x2="213.95" y2="281.1" stroke="#222" stroke-width="0.7"/>
<line x1="213.95" y1="183.5" x2="213.95" y2="184.7" stroke="#222" stroke-width="0.7"/>
<line x1="218.44" y1="282.3" x2="218.44" y2="281.1" stroke="#222" stroke-width="0.7"/>
<line x1="218.44" y1="183.5" x2="218.44" y2="184.7" stroke="#222" stroke-width="0.7"/>
<line x1="221.93" y1="282.3" x2="221.93" y2="281.1" stroke="#222" stroke-width="0.7"/>
<line x1="221.93" y1="183.5" x2="221.93" y2="184.7" stroke="#222" stroke-width="0.7"/>
<line x1="224.77" y1="282.3" x2="224.77" y2="281.1" stroke="#222" stroke-width="0.7"/>
<line x1="224.77" y1="183.5" x2="224.77" y2="184.7" stroke="#222" stroke-width="0.7"/>
<line x1="227.18" y1="282.3" x2="227.18" y2="281.1" stroke="#222" stroke-width="0.7"/>
<line x1="227.18" y1="183.5" x2="227.18" y2="184.7" stroke="#222" stroke-width="0.7"/>
<line x1="229.27" y1="282.3" x2="229.27" y2="281.1" stroke="#222" stroke-width="0.7"/>
<line x1="229.27" y1="183.5" x2="229.27" y2="184.7" stroke="#222" stroke-width="0.7"/>
<line x1="231.11" y1="282.3" x2="231.11" y2="281.1" stroke="#222" stroke-width="0.7"/>
<line x1="231.11" y1="183.5" x2="231.11" y2="184.7" stroke="#222" stroke-width="0.7"/>
<line x1="232.75" y1="282.3" x2="232.75" y2="280.3" stroke="#222" stroke-width="0.7"/>
<line x1="232.75" y1="183.5" x2="232.75" y2="185.5" stroke="#222" stroke-width="0.7"/>
<line x1="243.57" y1="282.3" x2="243.57" y2="281.1" stroke="#222" stroke-width="0.7"/>
<line x1="243.57" y1="183.5" x2="243.57" y2="184.7" stroke="#222" stroke-width="0.7"/>
<line x1="249.9" y1="282.3" x2="249.9" y2="281.1" stroke="#222" stroke-width="0.7"/>
<line x1="249.9" y1="183.5" x2="249.9" y2="184.7" stroke="#222" stroke-width="0.7"/>
<line x1="254.39" y1="282.3" x2="254.39" y2="281.1" stroke="#222" stroke-width="0.7"/>
<line x1="254.39" y1="183.5" x2="254.39" y2="184.7" stroke="#222" stroke-width="0.7"/>
<line x1="257.88" y1="282.3" x2="257.88" y2="281.1" stroke="#222" stroke-width="0.7"/>
<line x1="257.88" y1="183.5" x2="257.88" y2="184.7" stroke="#222" stroke-width="0.7"/>
<line x1="260.72" y1="282.3" x2="260.72" y2="281.1" stroke="#222" stroke-width="0.7"/>
<line x1="260.72" y1="183.5" x2="260.72" y2="184.7" stroke="#222" stroke-width="0.7"/>
<line x1="263.13" y1="282.3" x2="263.13" y2="281.1" stroke="#222" stroke-width="0.7"/>
<line x1="263.13" y1="183.5" x2="263.13" y2="184.7" stroke="#222" stroke-width="0.7"/>
<line x1="265.22" y1="282.3" x2="265.22" y2="281.1" stroke="#222" stroke-width="0.7"/>
<line x1="265.22" y1="183.5" x2="265.22" y2="184.7" stroke="#222" stroke-width="0.7"/>
<line x1="267.06" y1="282.3" x2="267.06" y2="281.1" stroke="#222" stroke-width="0.7"/>
<line x1="267.06" y1="183.5" x2="267.06" y2="184.7" stroke="#222" stroke-width="0.7"/>
<line x1="268.7" y1="282.3" x2="268.7" y2="280.3" stroke="#222" stroke-width="0.7"/>
<line x1="268.7" y1="183.5" x2="268.7" y2="185.5" stroke="#222" stroke-width="0.7"/>
<line x1="279.52" y1="282.3" x2="279.52" y2="281.1" stroke="#222" stroke-width="0.7"/>
<line x1="279.52" y1="183.5" x2="279.52" y2="184.7" stroke="#222" stroke-width="0.7"/>
<line x1="285.85" y1="282.3" x2="285.85" y2="281.1" stroke="#222" stroke-width="0.7"/>
<line x1="285.85" y1="183.5" x2="285.85" y2="184.7" stroke="#222" stroke-width="0.7"/>
<line x1="290.34" y1="282.3" x2="290.34" y2="281.1" stroke="#222" stroke-width="0.7"/>
<line x1="290.34" y1="183.5" x2="290.34" y2="184.7" stroke="#222" stroke-width="0.7"/>
<line x1="293.83" y1="282.3" x2="293.83" y2="281.1" stroke="#222" stroke-width="0.7"/>
<line x1="293.83" y1="183.5" x2="293.83" y2="184.7" stroke="#222" stroke-width="0.7"/>
<line x1="296.67" y1="282.3" x2="296.67" y2="281.1" stroke="#222" stroke-width="0.7"/>
<line x1="296.67" y1="183.5" x2="296.67" y2="184.7" stroke="#222" stroke-width="0.7"/>
<line x1="299.08" y1="282.3" x2="299.08" y2="281.1" stroke="#222" stroke-width="0.7"/>
<line x1="299.08" y1="183.5" x2="299.08" y2="184.7" stroke="#222" stroke-width="0.7"/>
<line x1="301.17" y1="282.3" x2="301.17" y2="281.1" stroke="#222" stroke-width="0.7"/>
<line x1="301.17" y1="183.5" x2="301.17" y2="184.7" stroke="#222" stroke-width="0.7"/>
<line x1="303.01" y1="282.3" x2="303.01" y2="281.1" stroke="#222" stroke-width="0.7"/>
<line x1="303.01" y1="183.5" x2="303.01" y2="184.7" stroke="#222" stroke-width="0.7"/>
<line x1="304.65" y1="282.3" x2="304.65" y2="280.3" stroke="#222" stroke-width="0.7"/>
<line x1="304.65" y1="183.5" x2="304.65" y2="185.5" stroke="#222" stroke-width="0.7"/>
<line x1="315.47" y1="282.3" x2="315.47" y2="281.1" stroke="#222" stroke-width="0.7"/>
<line x1="315.47" y1="183.5" x2="315.47" y2="184.7" stroke="#222" stroke-width="0.7"/>
<line x1="321.8" y1="282.3" x2="321.8" y2="281.1" stroke="#222" stroke-width="0.7"/>
<line x1="321.8" y1="183.5" x2="321.8" y2="184.7" stroke="#222" stroke-width="0.7"/>
<line x1="326.29" y1="282.3" x2="326.29" y2="281.1" stroke="#222" stroke-width="0.7"/>
<line x1="326.29" y1="183.5" x2="326.29" y2="184.7" stroke="#222" stroke-width="0.7"/>
<line x1="329.78" y1="282.3" x2="329.78" y2="281.1" stroke="#222" stroke-width="0.7"/>
<line x1="329.78" y1="183.5" x2="329.78" y2="184.7" stroke="#222" stroke-width="0.7"/>
<line x1="332.62" y1="282.3" x2="332.62" y2="281.1" stroke="#222" stroke-width="0.7"/>
<line x1="332.62" y1="183.5" x2="332.62" y2="184.7" stroke="#222" stroke-width="0.7"/>
<line x1="335.03" y1="282.3" x2="335.03" y2="281.1" stroke="#222" stroke-width="0.7"/>
<line x1="335.03" y1="183.5" x2="335.03" y2="184.7" stroke="#222" stroke-width="0.7"/>
<line x1="337.12" y1="282.3" x2="337.12" y2="281.1" stroke="#222" stroke-width="0.7"/>
<line x1="337.12" y1="183.5" x2="337.12" y2="184.7" stroke="#222" stroke-width="0.7"/>
<line x1="338.96" y1="282.3" x2="338.96" y2="281.1" stroke="#222" stroke-width="0.7"/>
<line x1="338.96" y1="183.5" x2="338.96" y2="184.7" stroke="#222" stroke-width="0.7"/>
<line x1="196.8" y1="282.2" x2="198.8" y2="282.2" stroke="#222" stroke-width="0.7"/>
<line x1="340.6" y1="282.2" x2="338.6" y2="282.2" stroke="#222" stroke-width="0.7"/>
<line x1="196.8" y1="268.86" x2="198" y2="268.86" stroke="#222" stroke-width="0.7"/>
<line x1="340.6" y1="268.86" x2="339.4" y2="268.86" stroke="#222" stroke-width="0.7"/>
<line x1="196.8" y1="261.06" x2="198" y2="261.06" stroke="#222" stroke-width="0.7"/>
<line x1="340.6" y1="261.06" x2="339.4" y2="261.06" stroke="#222" stroke-width="0.7"/>
<line x1="196.8" y1="255.53" x2="198" y2="255.53" stroke="#222" stroke-width="0.7"/>
<line x1="340.6" y1="255.53" x2="339.4" y2="255.53" stroke="#222" stroke-width="0.7"/>
<line x1="196.8" y1="251.24" x2="198" y2="251.24" stroke="#222" stroke-width="0.7"/>
<line x1="340.6" y1="251.24" x2="339.4" y2="251.24" stroke="#222" stroke-width="0.7"/>
<line x1="196.8" y1="247.73" x2="198" y2="247.73" stroke="#222" stroke-width="0.7"/>
<line x1="340.6" y1="247.73" x2="339.4" y2="247.73" stroke="#222" stroke-width="0.7"/>
<line x1="196.8" y1="244.76" x2="198" y2="244.76" stroke="#222" stroke-width="0.7"/>
<line x1="340.6" y1="244.76" x2="339.4" y2="244.76" stroke="#222" stroke-width="0.7"/>
<line x1="196.8" y1="242.19" x2="198" y2="242.19" stroke="#222" stroke-width="0.7"/>
<line x1="340.6" y1="242.19" x2="339.4" y2="242.19" stroke="#222" stroke-width="0.7"/>
<line x1="196.8" y1="239.93" x2="198" y2="239.93" stroke="#222" stroke-width="0.7"/>
<line x1="340.6" y1="239.93" x2="339.4" y2="239.93" stroke="#222" stroke-width="0.7"/>
<line x1="196.8" y1="237.9" x2="198.8" y2="237.9" stroke="#222" stroke-width="0.7"/>
<line x1="340.6" y1="237.9" x2="338.6" y2="237.9" stroke="#222" stroke-width="0.7"/>
<line x1="196.8" y1="224.56" x2="198" y2="224.56" stroke="#222" stroke-width="0.7"/>
<line x1="340.6" y1="224.56" x2="339.4" y2="224.56" stroke="#222" stroke-width="0.7"/>
<line x1="196.8" y1="216.76" x2="198" y2="216.76" stroke="#222" stroke-width="0.7"/>
<line x1="340.6" y1="216.76" x2="339.4" y2="216.76" stroke="#222" stroke-width="0.7"/>
<line x1="196.8" y1="211.23" x2="198" y2="211.23" stroke="#222" stroke-width="0.7"/>
<line x1="340.6" y1="211.23" x2="339.4" y2="211.23" stroke="#222" stroke-width="0.7"/>
<line x1="196.8" y1="206.94" x2="198" y2="206.94" stroke="#222" stroke-width="0.7"/>
<line x1="340.6" y1="206.94" x2="339.4" y2="206.94" stroke="#222" stroke-width="0.7"/>
<line x1="196.8" y1="203.43" x2="198" y2="203.43" stroke="#222" stroke-width="0.7"/>
<line x1="340.6" y1="203.43" x2="339.4" y2="203.43" stroke="#222" stroke-width="0.7"/>
<line x1="196.8" y1="200.46" x2="198" y2="200.46" stroke="#222" stroke-width="0.7"/>
<line x1="340.6" y1="200.46" x2="339.4" y2="200.46" stroke="#222" stroke-width="0.7"/>
<line x1="196.8" y1="197.89" x2="198" y2="197.89" stroke="#222" stroke-width="0.7"/>
<line x1="340.6" y1="197.89" x2="339.4" y2="197.89" stroke="#222" stroke-width="0.7"/>
<line x1="196.8" y1="195.63" x2="198" y2="195.63" stroke="#222" stroke-width="0.7"/>
<line x1="340.6" y1="195.63" x2="339.4" y2="195.63" stroke="#222" stroke-width="0.7"/>
<line x1="196.8" y1="193.6" x2="198.8" y2="193.6" stroke="#222" stroke-width="0.7"/>
<line x1="340.6" y1="193.6" x2="338.6" y2="193.6" stroke="#222" stroke-width="0.7"/>
<rect x="196.8" y="183.5" width="143.8" height="98.8" fill="none" stroke="#333" stroke-width="1.05"/>
<text x="196.8" y="292" font-family='"Liberation Sans", sans-serif' font-size="6.5" text-anchor="middle" fill="#4a4a4a">10<tspan dy="-2.5" font-size="4.81">-1</tspan></text>
<text x="232.75" y="292" font-family='"Liberation Sans", sans-serif' font-size="6.5" text-anchor="middle" fill="#4a4a4a">10<tspan dy="-2.5" font-size="4.81">0</tspan></text>
<text x="268.7" y="292" font-family='"Liberation Sans", sans-serif' font-size="6.5" text-anchor="middle" fill="#4a4a4a">10<tspan dy="-2.5" font-size="4.81">1</tspan></text>
<text x="304.65" y="292" font-family='"Liberation Sans", sans-serif' font-size="6.5" text-anchor="middle" fill="#4a4a4a">10<tspan dy="-2.5" font-size="4.81">2</tspan></text>
<text x="340.6" y="292" font-family='"Liberation Sans", sans-serif' font-size="6.5" text-anchor="middle" fill="#4a4a4a">10</text>
<text x="194.8" y="196.9" font-family='"Liberation Sans", sans-serif' font-size="6.5" text-anchor="end" fill="#4a4a4a">10<tspan dy="-2.5" font-size="4.81">0</tspan></text>
<text x="194.8" y="241.2" font-family='"Liberation Sans", sans-serif' font-size="6.5" text-anchor="end" fill="#4a4a4a">10<tspan dy="-2.5" font-size="4.81">-1</tspan></text>
<text x="194.8" y="285.5" font-family='"Liberation Sans", sans-serif' font-size="6.5" text-anchor="end" fill="#4a4a4a">10<tspan dy="-2.5" font-size="4.81">-2</tspan></text>
<text x="268" y="304.8" font-family='"Liberation Serif", serif' font-size="8.2" text-anchor="middle" fill="#222">Shear rate (1/s)</text>
<text x="179.8" y="233.8" font-family='"Liberation Serif", serif' font-size="8.2" text-anchor="middle" fill="#222" transform="rotate(-90 179.8 233.8)">Viscosity (Pa.s)</text>
<text x="272.7" y="180.4" font-family='"Liberation Serif", serif' font-size="8.2" text-anchor="middle" fill="#222">GelMA/Alg 0.1</text>
<polyline points="196.8,183.5 197.58,183.97 198.66,184.58 199.93,185.32 201.31,186.2 202.7,187.19 204,188.3 205.24,189.53 206.5,190.9 207.78,192.39 209.04,193.99 210.29,195.7 211.5,197.5 212.69,199.43 213.86,201.5 215.01,203.67 216.14,205.91 217.24,208.2 218.3,210.5 219.31,212.74 220.28,214.94 221.22,217.19 222.14,219.56 223.06,222.13 224,225 224.96,228.33 225.93,232.07 226.91,236.03 227.87,239.98 228.8,243.71 229.7,247 230.55,249.87 231.36,252.49 232.15,254.89 232.93,257.1 233.7,259.12 234.5,261 235.31,262.7 236.13,264.21 236.94,265.54 237.76,266.72 238.58,267.77 239.4,268.7 240.09,269.49 240.63,270.11 241.18,270.6 241.87,270.99 242.86,271.31 244.3,271.6 245.54,271.83 246.33,271.96 247.42,272.03 249.56,272.05 253.5,272.07 260,272.1 270.61,272.14 285.04,272.17 301.28,272.18 317.3,272.19 331.08,272.19 340.6,272.2" fill="none" stroke="#2630e6" stroke-width="1.1" stroke-linejoin="round" stroke-dasharray="3 2"/>
<polyline points="196.8,183.5 197.54,183.76 198.56,184.05 199.76,184.42 201.08,184.96 202.42,185.73 203.7,186.8 204.96,188.25 206.27,190.05 207.61,192.08 208.94,194.22 210.25,196.36 211.5,198.4 212.69,200.32 213.84,202.22 214.96,204.12 216.07,206.06 217.18,208.04 218.3,210.1 219.41,212.23 220.5,214.42 221.58,216.66 222.69,218.96 223.86,221.3 225.1,223.7 226.48,226.27 227.97,229.03 229.53,231.85 231.06,234.58 232.51,237.07 233.8,239.2 234.87,240.84 235.74,242.09 236.54,243.11 237.34,244.06 238.27,245.1 239.4,246.4 240.78,248 242.33,249.79 243.99,251.66 245.71,253.55 247.44,255.36 249.1,257 250.72,258.5 252.33,259.93 253.95,261.28 255.57,262.55 257.18,263.72 258.8,264.8 260.42,265.77 262.03,266.64 263.64,267.42 265.26,268.11 266.88,268.74 268.5,269.3 270.13,269.78 271.76,270.17 273.4,270.49 275.04,270.76 276.67,270.99 278.3,271.2 279.78,271.38 281.09,271.51 282.39,271.6 283.86,271.67 285.67,271.73 288,271.8 290.86,271.87 294.1,271.93 297.69,271.98 301.57,272.03 305.69,272.07 310,272.1 314.96,272.13 320.7,272.15 326.68,272.17 332.35,272.18 337.17,272.19 340.6,272.2" fill="none" stroke="#e8232a" stroke-width="1.1" stroke-linejoin="round"/>
<circle cx="196.8" cy="184.1" r="1.45" fill="none" stroke="#2b86c8" stroke-width="0.8"/>
<circle cx="203.99" cy="186.8" r="1.45" fill="none" stroke="#2b86c8" stroke-width="0.8"/>
<circle cx="211.18" cy="197.9" r="1.45" fill="none" stroke="#2b86c8" stroke-width="0.8"/>
<circle cx="218.37" cy="210" r="1.45" fill="none" stroke="#2b86c8" stroke-width="0.8"/>
<circle cx="225.56" cy="224.3" r="1.45" fill="none" stroke="#2b86c8" stroke-width="0.8"/>
<circle cx="232.75" cy="238.4" r="1.45" fill="none" stroke="#2b86c8" stroke-width="0.8"/>
<circle cx="239.94" cy="241.4" r="1.45" fill="none" stroke="#2b86c8" stroke-width="0.8"/>
<circle cx="247.13" cy="247.9" r="1.45" fill="none" stroke="#2b86c8" stroke-width="0.8"/>
<circle cx="254.32" cy="252.8" r="1.45" fill="none" stroke="#2b86c8" stroke-width="0.8"/>
<circle cx="261.51" cy="257" r="1.45" fill="none" stroke="#2b86c8" stroke-width="0.8"/>
<circle cx="268.7" cy="260.3" r="1.45" fill="none" stroke="#2b86c8" stroke-width="0.8"/>
<circle cx="275.89" cy="263.1" r="1.45" fill="none" stroke="#2b86c8" stroke-width="0.8"/>
<circle cx="283.08" cy="265.2" r="1.45" fill="none" stroke="#2b86c8" stroke-width="0.8"/>
<circle cx="290.27" cy="266.7" r="1.45" fill="none" stroke="#2b86c8" stroke-width="0.8"/>
<circle cx="297.46" cy="268.1" r="1.45" fill="none" stroke="#2b86c8" stroke-width="0.8"/>
<circle cx="304.65" cy="269.3" r="1.45" fill="none" stroke="#2b86c8" stroke-width="0.8"/>
<circle cx="311.84" cy="270.2" r="1.45" fill="none" stroke="#2b86c8" stroke-width="0.8"/>
<circle cx="319.03" cy="271.2" r="1.45" fill="none" stroke="#2b86c8" stroke-width="0.8"/>
<circle cx="326.22" cy="271.6" r="1.45" fill="none" stroke="#2b86c8" stroke-width="0.8"/>
<circle cx="333.41" cy="272" r="1.45" fill="none" stroke="#2b86c8" stroke-width="0.8"/>
<circle cx="270.8" cy="190.2" r="1.45" fill="none" stroke="#2b86c8" stroke-width="0.8"/>
<line x1="261.2" y1="200.1" x2="279.4" y2="200.1" stroke="#3f7fd0" stroke-width="1.1" stroke-dasharray="2.6 1.4"/>
<line x1="261.9" y1="208.8" x2="279.5" y2="208.8" stroke="#e8232a" stroke-width="1.1"/>
<text x="283.6" y="192.3" font-family='"Liberation Serif", serif' font-size="7.4" fill="#222">Experimental</text>
<text x="283.6" y="201.8" font-family='"Liberation Serif", serif' font-size="7.4" fill="#222">Carreau</text>
<text x="283.6" y="210.8" font-family='"Liberation Serif", serif' font-size="7.4" fill="#222">Carreau-Yasuda</text>
<line x1="367.6" y1="283.1" x2="367.6" y2="281.1" stroke="#222" stroke-width="0.7"/>
<line x1="367.6" y1="184.1" x2="367.6" y2="186.1" stroke="#222" stroke-width="0.7"/>
<line x1="378.27" y1="283.1" x2="378.27" y2="281.9" stroke="#222" stroke-width="0.7"/>
<line x1="378.27" y1="184.1" x2="378.27" y2="185.3" stroke="#222" stroke-width="0.7"/>
<line x1="384.51" y1="283.1" x2="384.51" y2="281.9" stroke="#222" stroke-width="0.7"/>
<line x1="384.51" y1="184.1" x2="384.51" y2="185.3" stroke="#222" stroke-width="0.7"/>
<line x1="388.94" y1="283.1" x2="388.94" y2="281.9" stroke="#222" stroke-width="0.7"/>
<line x1="388.94" y1="184.1" x2="388.94" y2="185.3" stroke="#222" stroke-width="0.7"/>
<line x1="392.38" y1="283.1" x2="392.38" y2="281.9" stroke="#222" stroke-width="0.7"/>
<line x1="392.38" y1="184.1" x2="392.38" y2="185.3" stroke="#222" stroke-width="0.7"/>
<line x1="395.19" y1="283.1" x2="395.19" y2="281.9" stroke="#222" stroke-width="0.7"/>
<line x1="395.19" y1="184.1" x2="395.19" y2="185.3" stroke="#222" stroke-width="0.7"/>
<line x1="397.56" y1="283.1" x2="397.56" y2="281.9" stroke="#222" stroke-width="0.7"/>
<line x1="397.56" y1="184.1" x2="397.56" y2="185.3" stroke="#222" stroke-width="0.7"/>
<line x1="399.61" y1="283.1" x2="399.61" y2="281.9" stroke="#222" stroke-width="0.7"/>
<line x1="399.61" y1="184.1" x2="399.61" y2="185.3" stroke="#222" stroke-width="0.7"/>
<line x1="401.43" y1="283.1" x2="401.43" y2="281.9" stroke="#222" stroke-width="0.7"/>
<line x1="401.43" y1="184.1" x2="401.43" y2="185.3" stroke="#222" stroke-width="0.7"/>
<line x1="403.05" y1="283.1" x2="403.05" y2="281.1" stroke="#222" stroke-width="0.7"/>
<line x1="403.05" y1="184.1" x2="403.05" y2="186.1" stroke="#222" stroke-width="0.7"/>
<line x1="413.72" y1="283.1" x2="413.72" y2="281.9" stroke="#222" stroke-width="0.7"/>
<line x1="413.72" y1="184.1" x2="413.72" y2="185.3" stroke="#222" stroke-width="0.7"/>
<line x1="419.96" y1="283.1" x2="419.96" y2="281.9" stroke="#222" stroke-width="0.7"/>
<line x1="419.96" y1="184.1" x2="419.96" y2="185.3" stroke="#222" stroke-width="0.7"/>
<line x1="424.39" y1="283.1" x2="424.39" y2="281.9" stroke="#222" stroke-width="0.7"/>
<line x1="424.39" y1="184.1" x2="424.39" y2="185.3" stroke="#222" stroke-width="0.7"/>
<line x1="427.83" y1="283.1" x2="427.83" y2="281.9" stroke="#222" stroke-width="0.7"/>
<line x1="427.83" y1="184.1" x2="427.83" y2="185.3" stroke="#222" stroke-width="0.7"/>
<line x1="430.64" y1="283.1" x2="430.64" y2="281.9" stroke="#222" stroke-width="0.7"/>
<line x1="430.64" y1="184.1" x2="430.64" y2="185.3" stroke="#222" stroke-width="0.7"/>
<line x1="433.01" y1="283.1" x2="433.01" y2="281.9" stroke="#222" stroke-width="0.7"/>
<line x1="433.01" y1="184.1" x2="433.01" y2="185.3" stroke="#222" stroke-width="0.7"/>
<line x1="435.06" y1="283.1" x2="435.06" y2="281.9" stroke="#222" stroke-width="0.7"/>
<line x1="435.06" y1="184.1" x2="435.06" y2="185.3" stroke="#222" stroke-width="0.7"/>
<line x1="436.88" y1="283.1" x2="436.88" y2="281.9" stroke="#222" stroke-width="0.7"/>
<line x1="436.88" y1="184.1" x2="436.88" y2="185.3" stroke="#222" stroke-width="0.7"/>
<line x1="438.5" y1="283.1" x2="438.5" y2="281.1" stroke="#222" stroke-width="0.7"/>
<line x1="438.5" y1="184.1" x2="438.5" y2="186.1" stroke="#222" stroke-width="0.7"/>
<line x1="449.17" y1="283.1" x2="449.17" y2="281.9" stroke="#222" stroke-width="0.7"/>
<line x1="449.17" y1="184.1" x2="449.17" y2="185.3" stroke="#222" stroke-width="0.7"/>
<line x1="455.41" y1="283.1" x2="455.41" y2="281.9" stroke="#222" stroke-width="0.7"/>
<line x1="455.41" y1="184.1" x2="455.41" y2="185.3" stroke="#222" stroke-width="0.7"/>
<line x1="459.84" y1="283.1" x2="459.84" y2="281.9" stroke="#222" stroke-width="0.7"/>
<line x1="459.84" y1="184.1" x2="459.84" y2="185.3" stroke="#222" stroke-width="0.7"/>
<line x1="463.28" y1="283.1" x2="463.28" y2="281.9" stroke="#222" stroke-width="0.7"/>
<line x1="463.28" y1="184.1" x2="463.28" y2="185.3" stroke="#222" stroke-width="0.7"/>
<line x1="466.09" y1="283.1" x2="466.09" y2="281.9" stroke="#222" stroke-width="0.7"/>
<line x1="466.09" y1="184.1" x2="466.09" y2="185.3" stroke="#222" stroke-width="0.7"/>
<line x1="468.46" y1="283.1" x2="468.46" y2="281.9" stroke="#222" stroke-width="0.7"/>
<line x1="468.46" y1="184.1" x2="468.46" y2="185.3" stroke="#222" stroke-width="0.7"/>
<line x1="470.51" y1="283.1" x2="470.51" y2="281.9" stroke="#222" stroke-width="0.7"/>
<line x1="470.51" y1="184.1" x2="470.51" y2="185.3" stroke="#222" stroke-width="0.7"/>
<line x1="472.33" y1="283.1" x2="472.33" y2="281.9" stroke="#222" stroke-width="0.7"/>
<line x1="472.33" y1="184.1" x2="472.33" y2="185.3" stroke="#222" stroke-width="0.7"/>
<line x1="473.95" y1="283.1" x2="473.95" y2="281.1" stroke="#222" stroke-width="0.7"/>
<line x1="473.95" y1="184.1" x2="473.95" y2="186.1" stroke="#222" stroke-width="0.7"/>
<line x1="484.62" y1="283.1" x2="484.62" y2="281.9" stroke="#222" stroke-width="0.7"/>
<line x1="484.62" y1="184.1" x2="484.62" y2="185.3" stroke="#222" stroke-width="0.7"/>
<line x1="490.86" y1="283.1" x2="490.86" y2="281.9" stroke="#222" stroke-width="0.7"/>
<line x1="490.86" y1="184.1" x2="490.86" y2="185.3" stroke="#222" stroke-width="0.7"/>
<line x1="495.29" y1="283.1" x2="495.29" y2="281.9" stroke="#222" stroke-width="0.7"/>
<line x1="495.29" y1="184.1" x2="495.29" y2="185.3" stroke="#222" stroke-width="0.7"/>
<line x1="498.73" y1="283.1" x2="498.73" y2="281.9" stroke="#222" stroke-width="0.7"/>
<line x1="498.73" y1="184.1" x2="498.73" y2="185.3" stroke="#222" stroke-width="0.7"/>
<line x1="501.54" y1="283.1" x2="501.54" y2="281.9" stroke="#222" stroke-width="0.7"/>
<line x1="501.54" y1="184.1" x2="501.54" y2="185.3" stroke="#222" stroke-width="0.7"/>
<line x1="503.91" y1="283.1" x2="503.91" y2="281.9" stroke="#222" stroke-width="0.7"/>
<line x1="503.91" y1="184.1" x2="503.91" y2="185.3" stroke="#222" stroke-width="0.7"/>
<line x1="505.96" y1="283.1" x2="505.96" y2="281.9" stroke="#222" stroke-width="0.7"/>
<line x1="505.96" y1="184.1" x2="505.96" y2="185.3" stroke="#222" stroke-width="0.7"/>
<line x1="507.78" y1="283.1" x2="507.78" y2="281.9" stroke="#222" stroke-width="0.7"/>
<line x1="507.78" y1="184.1" x2="507.78" y2="185.3" stroke="#222" stroke-width="0.7"/>
<line x1="367.6" y1="282.4" x2="369.6" y2="282.4" stroke="#222" stroke-width="0.7"/>
<line x1="509.4" y1="282.4" x2="507.4" y2="282.4" stroke="#222" stroke-width="0.7"/>
<line x1="367.6" y1="272.56" x2="368.8" y2="272.56" stroke="#222" stroke-width="0.7"/>
<line x1="509.4" y1="272.56" x2="508.2" y2="272.56" stroke="#222" stroke-width="0.7"/>
<line x1="367.6" y1="266.8" x2="368.8" y2="266.8" stroke="#222" stroke-width="0.7"/>
<line x1="509.4" y1="266.8" x2="508.2" y2="266.8" stroke="#222" stroke-width="0.7"/>
<line x1="367.6" y1="262.71" x2="368.8" y2="262.71" stroke="#222" stroke-width="0.7"/>
<line x1="509.4" y1="262.71" x2="508.2" y2="262.71" stroke="#222" stroke-width="0.7"/>
<line x1="367.6" y1="259.54" x2="368.8" y2="259.54" stroke="#222" stroke-width="0.7"/>
<line x1="509.4" y1="259.54" x2="508.2" y2="259.54" stroke="#222" stroke-width="0.7"/>
<line x1="367.6" y1="256.95" x2="368.8" y2="256.95" stroke="#222" stroke-width="0.7"/>
<line x1="509.4" y1="256.95" x2="508.2" y2="256.95" stroke="#222" stroke-width="0.7"/>
<line x1="367.6" y1="254.77" x2="368.8" y2="254.77" stroke="#222" stroke-width="0.7"/>
<line x1="509.4" y1="254.77" x2="508.2" y2="254.77" stroke="#222" stroke-width="0.7"/>
<line x1="367.6" y1="252.87" x2="368.8" y2="252.87" stroke="#222" stroke-width="0.7"/>
<line x1="509.4" y1="252.87" x2="508.2" y2="252.87" stroke="#222" stroke-width="0.7"/>
<line x1="367.6" y1="251.2" x2="368.8" y2="251.2" stroke="#222" stroke-width="0.7"/>
<line x1="509.4" y1="251.2" x2="508.2" y2="251.2" stroke="#222" stroke-width="0.7"/>
<line x1="367.6" y1="249.7" x2="369.6" y2="249.7" stroke="#222" stroke-width="0.7"/>
<line x1="509.4" y1="249.7" x2="507.4" y2="249.7" stroke="#222" stroke-width="0.7"/>
<line x1="367.6" y1="239.86" x2="368.8" y2="239.86" stroke="#222" stroke-width="0.7"/>
<line x1="509.4" y1="239.86" x2="508.2" y2="239.86" stroke="#222" stroke-width="0.7"/>
<line x1="367.6" y1="234.1" x2="368.8" y2="234.1" stroke="#222" stroke-width="0.7"/>
<line x1="509.4" y1="234.1" x2="508.2" y2="234.1" stroke="#222" stroke-width="0.7"/>
<line x1="367.6" y1="230.01" x2="368.8" y2="230.01" stroke="#222" stroke-width="0.7"/>
<line x1="509.4" y1="230.01" x2="508.2" y2="230.01" stroke="#222" stroke-width="0.7"/>
<line x1="367.6" y1="226.84" x2="368.8" y2="226.84" stroke="#222" stroke-width="0.7"/>
<line x1="509.4" y1="226.84" x2="508.2" y2="226.84" stroke="#222" stroke-width="0.7"/>
<line x1="367.6" y1="224.25" x2="368.8" y2="224.25" stroke="#222" stroke-width="0.7"/>
<line x1="509.4" y1="224.25" x2="508.2" y2="224.25" stroke="#222" stroke-width="0.7"/>
<line x1="367.6" y1="222.07" x2="368.8" y2="222.07" stroke="#222" stroke-width="0.7"/>
<line x1="509.4" y1="222.07" x2="508.2" y2="222.07" stroke="#222" stroke-width="0.7"/>
<line x1="367.6" y1="220.17" x2="368.8" y2="220.17" stroke="#222" stroke-width="0.7"/>
<line x1="509.4" y1="220.17" x2="508.2" y2="220.17" stroke="#222" stroke-width="0.7"/>
<line x1="367.6" y1="218.5" x2="368.8" y2="218.5" stroke="#222" stroke-width="0.7"/>
<line x1="509.4" y1="218.5" x2="508.2" y2="218.5" stroke="#222" stroke-width="0.7"/>
<line x1="367.6" y1="217" x2="369.6" y2="217" stroke="#222" stroke-width="0.7"/>
<line x1="509.4" y1="217" x2="507.4" y2="217" stroke="#222" stroke-width="0.7"/>
<line x1="367.6" y1="207.16" x2="368.8" y2="207.16" stroke="#222" stroke-width="0.7"/>
<line x1="509.4" y1="207.16" x2="508.2" y2="207.16" stroke="#222" stroke-width="0.7"/>
<line x1="367.6" y1="201.4" x2="368.8" y2="201.4" stroke="#222" stroke-width="0.7"/>
<line x1="509.4" y1="201.4" x2="508.2" y2="201.4" stroke="#222" stroke-width="0.7"/>
<line x1="367.6" y1="197.31" x2="368.8" y2="197.31" stroke="#222" stroke-width="0.7"/>
<line x1="509.4" y1="197.31" x2="508.2" y2="197.31" stroke="#222" stroke-width="0.7"/>
<line x1="367.6" y1="194.14" x2="368.8" y2="194.14" stroke="#222" stroke-width="0.7"/>
<line x1="509.4" y1="194.14" x2="508.2" y2="194.14" stroke="#222" stroke-width="0.7"/>
<line x1="367.6" y1="191.55" x2="368.8" y2="191.55" stroke="#222" stroke-width="0.7"/>
<line x1="509.4" y1="191.55" x2="508.2" y2="191.55" stroke="#222" stroke-width="0.7"/>
<line x1="367.6" y1="189.37" x2="368.8" y2="189.37" stroke="#222" stroke-width="0.7"/>
<line x1="509.4" y1="189.37" x2="508.2" y2="189.37" stroke="#222" stroke-width="0.7"/>
<line x1="367.6" y1="187.47" x2="368.8" y2="187.47" stroke="#222" stroke-width="0.7"/>
<line x1="509.4" y1="187.47" x2="508.2" y2="187.47" stroke="#222" stroke-width="0.7"/>
<line x1="367.6" y1="185.8" x2="368.8" y2="185.8" stroke="#222" stroke-width="0.7"/>
<line x1="509.4" y1="185.8" x2="508.2" y2="185.8" stroke="#222" stroke-width="0.7"/>
<line x1="367.6" y1="184.3" x2="369.6" y2="184.3" stroke="#222" stroke-width="0.7"/>
<line x1="509.4" y1="184.3" x2="507.4" y2="184.3" stroke="#222" stroke-width="0.7"/>
<rect x="367.6" y="184.1" width="141.8" height="99" fill="none" stroke="#333" stroke-width="1.05"/>
<text x="367.6" y="292.8" font-family='"Liberation Sans", sans-serif' font-size="6.5" text-anchor="middle" fill="#4a4a4a">10<tspan dy="-2.5" font-size="4.81">-1</tspan></text>
<text x="403.05" y="292.8" font-family='"Liberation Sans", sans-serif' font-size="6.5" text-anchor="middle" fill="#4a4a4a">10<tspan dy="-2.5" font-size="4.81">0</tspan></text>
<text x="438.5" y="292.8" font-family='"Liberation Sans", sans-serif' font-size="6.5" text-anchor="middle" fill="#4a4a4a">10<tspan dy="-2.5" font-size="4.81">1</tspan></text>
<text x="473.95" y="292.8" font-family='"Liberation Sans", sans-serif' font-size="6.5" text-anchor="middle" fill="#4a4a4a">10<tspan dy="-2.5" font-size="4.81">2</tspan></text>
<text x="509.4" y="292.8" font-family='"Liberation Sans", sans-serif' font-size="6.5" text-anchor="middle" fill="#4a4a4a">10<tspan dy="-2.5" font-size="4.81">3</tspan></text>
<text x="365.6" y="187.6" font-family='"Liberation Sans", sans-serif' font-size="6.5" text-anchor="end" fill="#4a4a4a">10<tspan dy="-2.5" font-size="4.81">2</tspan></text>
<text x="365.6" y="220.3" font-family='"Liberation Sans", sans-serif' font-size="6.5" text-anchor="end" fill="#4a4a4a">10<tspan dy="-2.5" font-size="4.81">1</tspan></text>
<text x="365.6" y="253" font-family='"Liberation Sans", sans-serif' font-size="6.5" text-anchor="end" fill="#4a4a4a">10<tspan dy="-2.5" font-size="4.81">0</tspan></text>
<text x="365.6" y="285.7" font-family='"Liberation Sans", sans-serif' font-size="6.5" text-anchor="end" fill="#4a4a4a">10<tspan dy="-2.5" font-size="4.81">-1</tspan></text>
<text x="447.7" y="305.1" font-family='"Liberation Serif", serif' font-size="8.2" text-anchor="middle" fill="#222">Shear rate (1/s)</text>
<text x="352.2" y="231.3" font-family='"Liberation Serif", serif' font-size="8.2" text-anchor="middle" fill="#222" transform="rotate(-90 352.2 231.3)">Viscosity (Pa.s)</text>
<text x="436.4" y="180.4" font-family='"Liberation Serif", serif' font-size="8.2" text-anchor="middle" fill="#222">GelMA/Alg 0.3</text>
<polyline points="367.6,201.5 368.37,202.18 369.43,203.11 370.69,204.22 372.06,205.44 373.42,206.73 374.7,208 375.92,209.29 377.17,210.65 378.42,212.06 379.66,213.52 380.86,215 382,216.5 383.1,218.04 384.17,219.65 385.21,221.28 386.2,222.91 387.13,224.49 388,226 388.78,227.39 389.48,228.67 390.12,229.91 390.74,231.17 391.36,232.51 392,234 392.65,235.62 393.27,237.33 393.89,239.12 394.54,241 395.23,242.96 396,245 396.88,247.23 397.86,249.69 398.89,252.22 399.91,254.7 400.87,257.01 401.7,259 402.38,260.63 402.94,261.98 403.43,263.16 403.91,264.24 404.41,265.33 405,266.5 405.67,267.78 406.38,269.08 407.12,270.39 407.88,271.66 408.64,272.88 409.4,274 410.15,275.04 410.9,276.01 411.66,276.93 412.42,277.79 413.2,278.58 414,279.3 414.64,279.96 415.08,280.56 415.53,281.09 416.21,281.56 417.33,281.96 419.1,282.3 421.11,282.56 423.1,282.73 425.53,282.84 428.86,282.9 433.53,282.95 440,283 449.56,283.04 462.11,283.05 476.01,283.04 489.61,283.03 501.29,283.01 509.4,283" fill="none" stroke="#2630e6" stroke-width="1.1" stroke-linejoin="round" stroke-dasharray="3 2"/>
<polyline points="367.6,199.5 368.41,200.54 369.53,201.97 370.86,203.67 372.29,205.5 373.7,207.32 375,209 376.18,210.55 377.33,212.06 378.46,213.57 379.61,215.1 380.78,216.67 382,218.3 383.26,220 384.53,221.75 385.83,223.54 387.17,225.36 388.56,227.18 390,229 391.52,230.82 393.11,232.64 394.74,234.48 396.4,236.32 398.06,238.16 399.7,240 401.32,241.82 402.93,243.62 404.55,245.42 406.17,247.24 407.78,249.1 409.4,251 411.02,252.99 412.63,255.07 414.25,257.19 415.87,259.28 417.48,261.3 419.1,263.2 420.72,264.99 422.33,266.73 423.95,268.4 425.57,269.98 427.18,271.45 428.8,272.8 430.45,274.02 432.15,275.13 433.85,276.14 435.5,277.04 437.07,277.86 438.5,278.6 439.76,279.23 440.88,279.74 441.91,280.17 442.91,280.53 443.92,280.87 445,281.2 446.02,281.53 446.92,281.83 447.84,282.09 448.91,282.33 450.28,282.53 452.1,282.7 454.21,282.82 456.47,282.9 459.03,282.94 462.04,282.97 465.65,282.98 470,283 475.78,283.02 483,283.02 490.82,283.02 498.39,283.01 504.86,283 509.4,283" fill="none" stroke="#e8232a" stroke-width="1.1" stroke-linejoin="round"/>
<circle cx="367.6" cy="198.7" r="1.45" fill="none" stroke="#2b86c8" stroke-width="0.8"/>
<circle cx="374.69" cy="210.4" r="1.45" fill="none" stroke="#2b86c8" stroke-width="0.8"/>
<circle cx="381.78" cy="217.2" r="1.45" fill="none" stroke="#2b86c8" stroke-width="0.8"/>
<circle cx="388.87" cy="224.6" r="1.45" fill="none" stroke="#2b86c8" stroke-width="0.8"/>
<circle cx="395.96" cy="239.5" r="1.45" fill="none" stroke="#2b86c8" stroke-width="0.8"/>
<circle cx="403.05" cy="239.5" r="1.45" fill="none" stroke="#2b86c8" stroke-width="0.8"/>
<circle cx="410.14" cy="247.9" r="1.45" fill="none" stroke="#2b86c8" stroke-width="0.8"/>
<circle cx="417.23" cy="251.8" r="1.45" fill="none" stroke="#2b86c8" stroke-width="0.8"/>
<circle cx="424.32" cy="255.5" r="1.45" fill="none" stroke="#2b86c8" stroke-width="0.8"/>
<circle cx="431.41" cy="258.4" r="1.45" fill="none" stroke="#2b86c8" stroke-width="0.8"/>
<circle cx="438.5" cy="260.9" r="1.45" fill="none" stroke="#2b86c8" stroke-width="0.8"/>
<circle cx="445.59" cy="262.9" r="1.45" fill="none" stroke="#2b86c8" stroke-width="0.8"/>
<circle cx="452.68" cy="265.2" r="1.45" fill="none" stroke="#2b86c8" stroke-width="0.8"/>
<circle cx="459.77" cy="267.1" r="1.45" fill="none" stroke="#2b86c8" stroke-width="0.8"/>
<circle cx="466.86" cy="269.3" r="1.45" fill="none" stroke="#2b86c8" stroke-width="0.8"/>
<circle cx="473.95" cy="272" r="1.45" fill="none" stroke="#2b86c8" stroke-width="0.8"/>
<circle cx="481.04" cy="275.1" r="1.45" fill="none" stroke="#2b86c8" stroke-width="0.8"/>
<circle cx="488.13" cy="277.4" r="1.45" fill="none" stroke="#2b86c8" stroke-width="0.8"/>
<circle cx="495.22" cy="280.3" r="1.45" fill="none" stroke="#2b86c8" stroke-width="0.8"/>
<circle cx="502.31" cy="282.9" r="1.45" fill="none" stroke="#2b86c8" stroke-width="0.8"/>
<circle cx="438.8" cy="190.7" r="1.45" fill="none" stroke="#2b86c8" stroke-width="0.8"/>
<line x1="429.2" y1="200.6" x2="447.4" y2="200.6" stroke="#3f7fd0" stroke-width="1.1" stroke-dasharray="2.6 1.4"/>
<line x1="429.9" y1="209.3" x2="447.5" y2="209.3" stroke="#e8232a" stroke-width="1.1"/>
<text x="451.6" y="192.8" font-family='"Liberation Serif", serif' font-size="7.4" fill="#222">Experimental</text>
<text x="451.6" y="202.3" font-family='"Liberation Serif", serif' font-size="7.4" fill="#222">Carreau</text>
<text x="451.6" y="211.3" font-family='"Liberation Serif", serif' font-size="7.4" fill="#222">Carreau-Yasuda</text>
<line x1="537.2" y1="286" x2="537.2" y2="284" stroke="#222" stroke-width="0.7"/>
<line x1="537.2" y1="184.3" x2="537.2" y2="186.3" stroke="#222" stroke-width="0.7"/>
<line x1="547.93" y1="286" x2="547.93" y2="284.8" stroke="#222" stroke-width="0.7"/>
<line x1="547.93" y1="184.3" x2="547.93" y2="185.5" stroke="#222" stroke-width="0.7"/>
<line x1="554.21" y1="286" x2="554.21" y2="284.8" stroke="#222" stroke-width="0.7"/>
<line x1="554.21" y1="184.3" x2="554.21" y2="185.5" stroke="#222" stroke-width="0.7"/>
<line x1="558.66" y1="286" x2="558.66" y2="284.8" stroke="#222" stroke-width="0.7"/>
<line x1="558.66" y1="184.3" x2="558.66" y2="185.5" stroke="#222" stroke-width="0.7"/>
<line x1="562.12" y1="286" x2="562.12" y2="284.8" stroke="#222" stroke-width="0.7"/>
<line x1="562.12" y1="184.3" x2="562.12" y2="185.5" stroke="#222" stroke-width="0.7"/>
<line x1="564.94" y1="286" x2="564.94" y2="284.8" stroke="#222" stroke-width="0.7"/>
<line x1="564.94" y1="184.3" x2="564.94" y2="185.5" stroke="#222" stroke-width="0.7"/>
<line x1="567.33" y1="286" x2="567.33" y2="284.8" stroke="#222" stroke-width="0.7"/>
<line x1="567.33" y1="184.3" x2="567.33" y2="185.5" stroke="#222" stroke-width="0.7"/>
<line x1="569.4" y1="286" x2="569.4" y2="284.8" stroke="#222" stroke-width="0.7"/>
<line x1="569.4" y1="184.3" x2="569.4" y2="185.5" stroke="#222" stroke-width="0.7"/>
<line x1="571.22" y1="286" x2="571.22" y2="284.8" stroke="#222" stroke-width="0.7"/>
<line x1="571.22" y1="184.3" x2="571.22" y2="185.5" stroke="#222" stroke-width="0.7"/>
<line x1="572.85" y1="286" x2="572.85" y2="284" stroke="#222" stroke-width="0.7"/>
<line x1="572.85" y1="184.3" x2="572.85" y2="186.3" stroke="#222" stroke-width="0.7"/>
<line x1="583.58" y1="286" x2="583.58" y2="284.8" stroke="#222" stroke-width="0.7"/>
<line x1="583.58" y1="184.3" x2="583.58" y2="185.5" stroke="#222" stroke-width="0.7"/>
<line x1="589.86" y1="286" x2="589.86" y2="284.8" stroke="#222" stroke-width="0.7"/>
<line x1="589.86" y1="184.3" x2="589.86" y2="185.5" stroke="#222" stroke-width="0.7"/>
<line x1="594.31" y1="286" x2="594.31" y2="284.8" stroke="#222" stroke-width="0.7"/>
<line x1="594.31" y1="184.3" x2="594.31" y2="185.5" stroke="#222" stroke-width="0.7"/>
<line x1="597.77" y1="286" x2="597.77" y2="284.8" stroke="#222" stroke-width="0.7"/>
<line x1="597.77" y1="184.3" x2="597.77" y2="185.5" stroke="#222" stroke-width="0.7"/>
<line x1="600.59" y1="286" x2="600.59" y2="284.8" stroke="#222" stroke-width="0.7"/>
<line x1="600.59" y1="184.3" x2="600.59" y2="185.5" stroke="#222" stroke-width="0.7"/>
<line x1="602.98" y1="286" x2="602.98" y2="284.8" stroke="#222" stroke-width="0.7"/>
<line x1="602.98" y1="184.3" x2="602.98" y2="185.5" stroke="#222" stroke-width="0.7"/>
<line x1="605.05" y1="286" x2="605.05" y2="284.8" stroke="#222" stroke-width="0.7"/>
<line x1="605.05" y1="184.3" x2="605.05" y2="185.5" stroke="#222" stroke-width="0.7"/>
<line x1="606.87" y1="286" x2="606.87" y2="284.8" stroke="#222" stroke-width="0.7"/>
<line x1="606.87" y1="184.3" x2="606.87" y2="185.5" stroke="#222" stroke-width="0.7"/>
<line x1="608.5" y1="286" x2="608.5" y2="284" stroke="#222" stroke-width="0.7"/>
<line x1="608.5" y1="184.3" x2="608.5" y2="186.3" stroke="#222" stroke-width="0.7"/>
<line x1="619.23" y1="286" x2="619.23" y2="284.8" stroke="#222" stroke-width="0.7"/>
<line x1="619.23" y1="184.3" x2="619.23" y2="185.5" stroke="#222" stroke-width="0.7"/>
<line x1="625.51" y1="286" x2="625.51" y2="284.8" stroke="#222" stroke-width="0.7"/>
<line x1="625.51" y1="184.3" x2="625.51" y2="185.5" stroke="#222" stroke-width="0.7"/>
<line x1="629.96" y1="286" x2="629.96" y2="284.8" stroke="#222" stroke-width="0.7"/>
<line x1="629.96" y1="184.3" x2="629.96" y2="185.5" stroke="#222" stroke-width="0.7"/>
<line x1="633.42" y1="286" x2="633.42" y2="284.8" stroke="#222" stroke-width="0.7"/>
<line x1="633.42" y1="184.3" x2="633.42" y2="185.5" stroke="#222" stroke-width="0.7"/>
<line x1="636.24" y1="286" x2="636.24" y2="284.8" stroke="#222" stroke-width="0.7"/>
<line x1="636.24" y1="184.3" x2="636.24" y2="185.5" stroke="#222" stroke-width="0.7"/>
<line x1="638.63" y1="286" x2="638.63" y2="284.8" stroke="#222" stroke-width="0.7"/>
<line x1="638.63" y1="184.3" x2="638.63" y2="185.5" stroke="#222" stroke-width="0.7"/>
<line x1="640.7" y1="286" x2="640.7" y2="284.8" stroke="#222" stroke-width="0.7"/>
<line x1="640.7" y1="184.3" x2="640.7" y2="185.5" stroke="#222" stroke-width="0.7"/>
<line x1="642.52" y1="286" x2="642.52" y2="284.8" stroke="#222" stroke-width="0.7"/>
<line x1="642.52" y1="184.3" x2="642.52" y2="185.5" stroke="#222" stroke-width="0.7"/>
<line x1="644.15" y1="286" x2="644.15" y2="284" stroke="#222" stroke-width="0.7"/>
<line x1="644.15" y1="184.3" x2="644.15" y2="186.3" stroke="#222" stroke-width="0.7"/>
<line x1="654.88" y1="286" x2="654.88" y2="284.8" stroke="#222" stroke-width="0.7"/>
<line x1="654.88" y1="184.3" x2="654.88" y2="185.5" stroke="#222" stroke-width="0.7"/>
<line x1="661.16" y1="286" x2="661.16" y2="284.8" stroke="#222" stroke-width="0.7"/>
<line x1="661.16" y1="184.3" x2="661.16" y2="185.5" stroke="#222" stroke-width="0.7"/>
<line x1="665.61" y1="286" x2="665.61" y2="284.8" stroke="#222" stroke-width="0.7"/>
<line x1="665.61" y1="184.3" x2="665.61" y2="185.5" stroke="#222" stroke-width="0.7"/>
<line x1="669.07" y1="286" x2="669.07" y2="284.8" stroke="#222" stroke-width="0.7"/>
<line x1="669.07" y1="184.3" x2="669.07" y2="185.5" stroke="#222" stroke-width="0.7"/>
<line x1="671.89" y1="286" x2="671.89" y2="284.8" stroke="#222" stroke-width="0.7"/>
<line x1="671.89" y1="184.3" x2="671.89" y2="185.5" stroke="#222" stroke-width="0.7"/>
<line x1="674.28" y1="286" x2="674.28" y2="284.8" stroke="#222" stroke-width="0.7"/>
<line x1="674.28" y1="184.3" x2="674.28" y2="185.5" stroke="#222" stroke-width="0.7"/>
<line x1="676.35" y1="286" x2="676.35" y2="284.8" stroke="#222" stroke-width="0.7"/>
<line x1="676.35" y1="184.3" x2="676.35" y2="185.5" stroke="#222" stroke-width="0.7"/>
<line x1="678.17" y1="286" x2="678.17" y2="284.8" stroke="#222" stroke-width="0.7"/>
<line x1="678.17" y1="184.3" x2="678.17" y2="185.5" stroke="#222" stroke-width="0.7"/>
<line x1="537.2" y1="285.3" x2="539.2" y2="285.3" stroke="#222" stroke-width="0.7"/>
<line x1="679.8" y1="285.3" x2="677.8" y2="285.3" stroke="#222" stroke-width="0.7"/>
<line x1="537.2" y1="275.19" x2="538.4" y2="275.19" stroke="#222" stroke-width="0.7"/>
<line x1="679.8" y1="275.19" x2="678.6" y2="275.19" stroke="#222" stroke-width="0.7"/>
<line x1="537.2" y1="269.27" x2="538.4" y2="269.27" stroke="#222" stroke-width="0.7"/>
<line x1="679.8" y1="269.27" x2="678.6" y2="269.27" stroke="#222" stroke-width="0.7"/>
<line x1="537.2" y1="265.07" x2="538.4" y2="265.07" stroke="#222" stroke-width="0.7"/>
<line x1="679.8" y1="265.07" x2="678.6" y2="265.07" stroke="#222" stroke-width="0.7"/>
<line x1="537.2" y1="261.81" x2="538.4" y2="261.81" stroke="#222" stroke-width="0.7"/>
<line x1="679.8" y1="261.81" x2="678.6" y2="261.81" stroke="#222" stroke-width="0.7"/>
<line x1="537.2" y1="259.15" x2="538.4" y2="259.15" stroke="#222" stroke-width="0.7"/>
<line x1="679.8" y1="259.15" x2="678.6" y2="259.15" stroke="#222" stroke-width="0.7"/>
<line x1="537.2" y1="256.9" x2="538.4" y2="256.9" stroke="#222" stroke-width="0.7"/>
<line x1="679.8" y1="256.9" x2="678.6" y2="256.9" stroke="#222" stroke-width="0.7"/>
<line x1="537.2" y1="254.96" x2="538.4" y2="254.96" stroke="#222" stroke-width="0.7"/>
<line x1="679.8" y1="254.96" x2="678.6" y2="254.96" stroke="#222" stroke-width="0.7"/>
<line x1="537.2" y1="253.24" x2="538.4" y2="253.24" stroke="#222" stroke-width="0.7"/>
<line x1="679.8" y1="253.24" x2="678.6" y2="253.24" stroke="#222" stroke-width="0.7"/>
<line x1="537.2" y1="251.7" x2="539.2" y2="251.7" stroke="#222" stroke-width="0.7"/>
<line x1="679.8" y1="251.7" x2="677.8" y2="251.7" stroke="#222" stroke-width="0.7"/>
<line x1="537.2" y1="241.59" x2="538.4" y2="241.59" stroke="#222" stroke-width="0.7"/>
<line x1="679.8" y1="241.59" x2="678.6" y2="241.59" stroke="#222" stroke-width="0.7"/>
<line x1="537.2" y1="235.67" x2="538.4" y2="235.67" stroke="#222" stroke-width="0.7"/>
<line x1="679.8" y1="235.67" x2="678.6" y2="235.67" stroke="#222" stroke-width="0.7"/>
<line x1="537.2" y1="231.47" x2="538.4" y2="231.47" stroke="#222" stroke-width="0.7"/>
<line x1="679.8" y1="231.47" x2="678.6" y2="231.47" stroke="#222" stroke-width="0.7"/>
<line x1="537.2" y1="228.21" x2="538.4" y2="228.21" stroke="#222" stroke-width="0.7"/>
<line x1="679.8" y1="228.21" x2="678.6" y2="228.21" stroke="#222" stroke-width="0.7"/>
<line x1="537.2" y1="225.55" x2="538.4" y2="225.55" stroke="#222" stroke-width="0.7"/>
<line x1="679.8" y1="225.55" x2="678.6" y2="225.55" stroke="#222" stroke-width="0.7"/>
<line x1="537.2" y1="223.3" x2="538.4" y2="223.3" stroke="#222" stroke-width="0.7"/>
<line x1="679.8" y1="223.3" x2="678.6" y2="223.3" stroke="#222" stroke-width="0.7"/>
<line x1="537.2" y1="221.36" x2="538.4" y2="221.36" stroke="#222" stroke-width="0.7"/>
<line x1="679.8" y1="221.36" x2="678.6" y2="221.36" stroke="#222" stroke-width="0.7"/>
<line x1="537.2" y1="219.64" x2="538.4" y2="219.64" stroke="#222" stroke-width="0.7"/>
<line x1="679.8" y1="219.64" x2="678.6" y2="219.64" stroke="#222" stroke-width="0.7"/>
<line x1="537.2" y1="218.1" x2="539.2" y2="218.1" stroke="#222" stroke-width="0.7"/>
<line x1="679.8" y1="218.1" x2="677.8" y2="218.1" stroke="#222" stroke-width="0.7"/>
<line x1="537.2" y1="207.99" x2="538.4" y2="207.99" stroke="#222" stroke-width="0.7"/>
<line x1="679.8" y1="207.99" x2="678.6" y2="207.99" stroke="#222" stroke-width="0.7"/>
<line x1="537.2" y1="202.07" x2="538.4" y2="202.07" stroke="#222" stroke-width="0.7"/>
<line x1="679.8" y1="202.07" x2="678.6" y2="202.07" stroke="#222" stroke-width="0.7"/>
<line x1="537.2" y1="197.87" x2="538.4" y2="197.87" stroke="#222" stroke-width="0.7"/>
<line x1="679.8" y1="197.87" x2="678.6" y2="197.87" stroke="#222" stroke-width="0.7"/>
<line x1="537.2" y1="194.61" x2="538.4" y2="194.61" stroke="#222" stroke-width="0.7"/>
<line x1="679.8" y1="194.61" x2="678.6" y2="194.61" stroke="#222" stroke-width="0.7"/>
<line x1="537.2" y1="191.95" x2="538.4" y2="191.95" stroke="#222" stroke-width="0.7"/>
<line x1="679.8" y1="191.95" x2="678.6" y2="191.95" stroke="#222" stroke-width="0.7"/>
<line x1="537.2" y1="189.7" x2="538.4" y2="189.7" stroke="#222" stroke-width="0.7"/>
<line x1="679.8" y1="189.7" x2="678.6" y2="189.7" stroke="#222" stroke-width="0.7"/>
<line x1="537.2" y1="187.76" x2="538.4" y2="187.76" stroke="#222" stroke-width="0.7"/>
<line x1="679.8" y1="187.76" x2="678.6" y2="187.76" stroke="#222" stroke-width="0.7"/>
<line x1="537.2" y1="186.04" x2="538.4" y2="186.04" stroke="#222" stroke-width="0.7"/>
<line x1="679.8" y1="186.04" x2="678.6" y2="186.04" stroke="#222" stroke-width="0.7"/>
<line x1="537.2" y1="184.5" x2="539.2" y2="184.5" stroke="#222" stroke-width="0.7"/>
<line x1="679.8" y1="184.5" x2="677.8" y2="184.5" stroke="#222" stroke-width="0.7"/>
<rect x="537.2" y="184.3" width="142.6" height="101.7" fill="none" stroke="#333" stroke-width="1.05"/>
<text x="537.2" y="295.7" font-family='"Liberation Sans", sans-serif' font-size="6.5" text-anchor="middle" fill="#4a4a4a">10<tspan dy="-2.5" font-size="4.81">-1</tspan></text>
<text x="572.85" y="295.7" font-family='"Liberation Sans", sans-serif' font-size="6.5" text-anchor="middle" fill="#4a4a4a">10<tspan dy="-2.5" font-size="4.81">0</tspan></text>
<text x="608.5" y="295.7" font-family='"Liberation Sans", sans-serif' font-size="6.5" text-anchor="middle" fill="#4a4a4a">10<tspan dy="-2.5" font-size="4.81">1</tspan></text>
<text x="644.15" y="295.7" font-family='"Liberation Sans", sans-serif' font-size="6.5" text-anchor="middle" fill="#4a4a4a">10<tspan dy="-2.5" font-size="4.81">2</tspan></text>
<text x="679.8" y="295.7" font-family='"Liberation Sans", sans-serif' font-size="6.5" text-anchor="middle" fill="#4a4a4a">10<tspan dy="-2.5" font-size="4.81">3</tspan></text>
<text x="535.2" y="187.8" font-family='"Liberation Sans", sans-serif' font-size="6.5" text-anchor="end" fill="#4a4a4a">10<tspan dy="-2.5" font-size="4.81">2</tspan></text>
<text x="535.2" y="221.4" font-family='"Liberation Sans", sans-serif' font-size="6.5" text-anchor="end" fill="#4a4a4a">10<tspan dy="-2.5" font-size="4.81">1</tspan></text>
<text x="535.2" y="255" font-family='"Liberation Sans", sans-serif' font-size="6.5" text-anchor="end" fill="#4a4a4a">10<tspan dy="-2.5" font-size="4.81">0</tspan></text>
<text x="535.2" y="288.6" font-family='"Liberation Sans", sans-serif' font-size="6.5" text-anchor="end" fill="#4a4a4a">10<tspan dy="-2.5" font-size="4.81">-1</tspan></text>
<text x="619.2" y="305.6" font-family='"Liberation Serif", serif' font-size="8.2" text-anchor="middle" fill="#222">Shear rate (1/s)</text>
<text x="523.2" y="231.3" font-family='"Liberation Serif", serif' font-size="8.2" text-anchor="middle" fill="#222" transform="rotate(-90 523.2 231.3)">Viscosity (Pa.s)</text>
<text x="610.5" y="180.4" font-family='"Liberation Serif", serif' font-size="8.2" text-anchor="middle" fill="#222">GelMA/Alg 0.5</text>
<polyline points="537.2,189.5 538.01,190.26 539.09,191.28 540.39,192.5 541.84,193.87 543.4,195.32 545,196.8 546.71,198.36 548.58,200.07 550.56,201.86 552.56,203.68 554.53,205.48 556.4,207.2 558.18,208.83 559.92,210.42 561.63,211.98 563.3,213.55 564.92,215.15 566.5,216.8 567.99,218.49 569.4,220.2 570.76,221.94 572.11,223.72 573.52,225.57 575,227.5 576.58,229.53 578.22,231.66 579.91,233.86 581.61,236.08 583.32,238.31 585,240.5 586.72,242.75 588.52,245.09 590.31,247.43 592.04,249.68 593.62,251.73 595,253.5 596.13,254.93 597.07,256.1 597.88,257.07 598.59,257.93 599.28,258.75 600,259.6 600.71,260.46 601.36,261.25 601.98,262.01 602.6,262.74 603.26,263.46 604,264.2 604.77,264.94 605.54,265.66 606.34,266.38 607.23,267.1 608.23,267.83 609.4,268.6 610.77,269.43 612.31,270.31 613.97,271.22 615.7,272.1 617.43,272.9 619.1,273.6 620.69,274.18 622.24,274.67 623.8,275.1 625.4,275.47 627.09,275.8 628.9,276.1 630.66,276.36 632.31,276.56 634.04,276.73 636.06,276.86 638.58,276.98 641.8,277.1 646.25,277.22 651.88,277.32 658.01,277.41 663.95,277.49 669.04,277.55 672.6,277.6" fill="none" stroke="#2630e6" stroke-width="1.1" stroke-linejoin="round" stroke-dasharray="3 2"/>
<polyline points="537.2,188.5 538.01,189.29 539.09,190.36 540.39,191.64 541.84,193.06 543.4,194.57 545,196.1 546.71,197.71 548.58,199.46 550.56,201.29 552.56,203.15 554.53,204.97 556.4,206.7 558.15,208.31 559.82,209.86 561.46,211.37 563.1,212.87 564.77,214.41 566.5,216 568.31,217.66 570.17,219.36 572.06,221.09 573.96,222.84 575.85,224.58 577.7,226.3 579.54,228.03 581.38,229.79 583.21,231.54 585.01,233.26 586.74,234.92 588.4,236.5 589.95,237.97 591.4,239.37 592.79,240.7 594.17,242 595.56,243.29 597,244.6 598.5,245.93 600.04,247.26 601.59,248.57 603.14,249.88 604.68,251.16 606.2,252.4 607.69,253.62 609.16,254.83 610.61,256.01 612.07,257.15 613.53,258.25 615,259.3 616.49,260.29 617.99,261.24 619.49,262.14 620.99,263 622.5,263.82 624,264.6 625.5,265.34 627.01,266.04 628.51,266.7 630.01,267.33 631.51,267.92 633,268.5 634.49,269.05 635.97,269.57 637.45,270.06 638.92,270.52 640.37,270.97 641.8,271.4 643.19,271.81 644.53,272.2 645.85,272.56 647.19,272.91 648.56,273.26 650,273.6 651.48,273.93 652.97,274.26 654.5,274.57 656.1,274.88 657.79,275.19 659.6,275.5 661.72,275.84 664.16,276.2 666.7,276.57 669.1,276.91 671.15,277.19 672.6,277.4" fill="none" stroke="#e8232a" stroke-width="1.1" stroke-linejoin="round"/>
<circle cx="537.2" cy="189.6" r="1.45" fill="none" stroke="#2b86c8" stroke-width="0.8"/>
<circle cx="544.33" cy="195.4" r="1.45" fill="none" stroke="#2b86c8" stroke-width="0.8"/>
<circle cx="551.46" cy="205.3" r="1.45" fill="none" stroke="#2b86c8" stroke-width="0.8"/>
<circle cx="558.59" cy="208.4" r="1.45" fill="none" stroke="#2b86c8" stroke-width="0.8"/>
<circle cx="565.72" cy="215.1" r="1.45" fill="none" stroke="#2b86c8" stroke-width="0.8"/>
<circle cx="572.85" cy="221.4" r="1.45" fill="none" stroke="#2b86c8" stroke-width="0.8"/>
<circle cx="579.98" cy="229.1" r="1.45" fill="none" stroke="#2b86c8" stroke-width="0.8"/>
<circle cx="587.11" cy="235.9" r="1.45" fill="none" stroke="#2b86c8" stroke-width="0.8"/>
<circle cx="594.24" cy="241.6" r="1.45" fill="none" stroke="#2b86c8" stroke-width="0.8"/>
<circle cx="601.37" cy="249" r="1.45" fill="none" stroke="#2b86c8" stroke-width="0.8"/>
<circle cx="608.5" cy="252.7" r="1.45" fill="none" stroke="#2b86c8" stroke-width="0.8"/>
<circle cx="615.63" cy="255.3" r="1.45" fill="none" stroke="#2b86c8" stroke-width="0.8"/>
<circle cx="622.76" cy="258.3" r="1.45" fill="none" stroke="#2b86c8" stroke-width="0.8"/>
<circle cx="629.89" cy="268.5" r="1.45" fill="none" stroke="#2b86c8" stroke-width="0.8"/>
<circle cx="637.02" cy="268.5" r="1.45" fill="none" stroke="#2b86c8" stroke-width="0.8"/>
<circle cx="644.15" cy="269.8" r="1.45" fill="none" stroke="#2b86c8" stroke-width="0.8"/>
<circle cx="651.28" cy="270.8" r="1.45" fill="none" stroke="#2b86c8" stroke-width="0.8"/>
<circle cx="658.41" cy="270.8" r="1.45" fill="none" stroke="#2b86c8" stroke-width="0.8"/>
<circle cx="665.54" cy="274.3" r="1.45" fill="none" stroke="#2b86c8" stroke-width="0.8"/>
<circle cx="672.67" cy="277.6" r="1.45" fill="none" stroke="#2b86c8" stroke-width="0.8"/>
<circle cx="608.8" cy="190.2" r="1.45" fill="none" stroke="#2b86c8" stroke-width="0.8"/>
<line x1="599.2" y1="200.1" x2="617.4" y2="200.1" stroke="#3f7fd0" stroke-width="1.1" stroke-dasharray="2.6 1.4"/>
<line x1="599.9" y1="208.8" x2="617.5" y2="208.8" stroke="#e8232a" stroke-width="1.1"/>
<text x="621.6" y="192.3" font-family='"Liberation Serif", serif' font-size="7.4" fill="#222">Experimental</text>
<text x="621.6" y="201.8" font-family='"Liberation Serif", serif' font-size="7.4" fill="#222">Carreau</text>
<text x="621.6" y="210.8" font-family='"Liberation Serif", serif' font-size="7.4" fill="#222">Carreau-Yasuda</text>
</svg>
</body></html>
